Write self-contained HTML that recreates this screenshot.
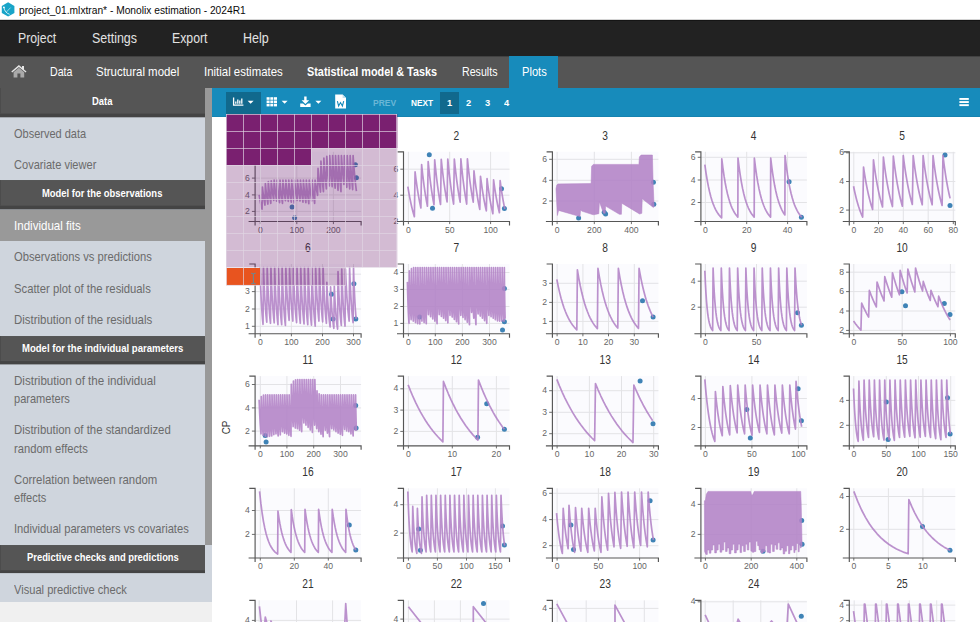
<!DOCTYPE html>
<html><head><meta charset="utf-8"><title>Monolix</title>
<style>
html,body{margin:0;padding:0;}
body{width:980px;height:622px;overflow:hidden;background:#fff;position:relative;font-family:"Liberation Sans",sans-serif;}
.a{position:absolute;}
.t{position:absolute;white-space:nowrap;transform-origin:0 50%;}
svg{position:absolute;left:0;top:0;}
svg text{font-family:"Liberation Sans",sans-serif;}
</style></head><body>
<div class="a" style="left:0px;top:0px;width:980px;height:20px;background:#ffffff;"></div>
<div class="a" style="left:0px;top:19px;width:980px;height:1px;background:#d4d4d4;"></div>
<svg width="20" height="20" viewBox="0 0 20 20"><polygon points="8.1,2.3 14.4,5.9 14.4,13 8.1,16.6 1.8,13 1.8,5.9" fill="#18a4c8"/><path d="M3.9 7.2 Q4.6 12.8 9.6 14.3" fill="none" stroke="#e4f6fb" stroke-width="0.9"/><path d="M6.4 12 L10.6 7.6" fill="none" stroke="#c9ecf5" stroke-width="0.7"/><circle cx="3.9" cy="7.3" r="0.9" fill="#fff"/></svg>
<div class="t" style="left:18.50px;top:2.60px;font-size:11.7px;line-height:14px;color:#0a0a0a;transform:scaleX(0.8748);">project_01.mlxtran* - Monolix estimation - 2024R1</div>
<div class="a" style="left:0px;top:20px;width:980px;height:36px;background:#222222;"></div>
<div class="a" style="left:0px;top:20px;width:980px;height:1px;background:#151515;"></div>
<div class="t" style="left:18.40px;top:30.10px;font-size:13.8px;line-height:17px;color:#e2e2e2;transform:scaleX(0.8894);">Project</div>
<div class="t" style="left:91.80px;top:30.10px;font-size:13.8px;line-height:17px;color:#e2e2e2;transform:scaleX(0.9024);">Settings</div>
<div class="t" style="left:172.00px;top:30.10px;font-size:13.8px;line-height:17px;color:#e2e2e2;transform:scaleX(0.8901);">Export</div>
<div class="t" style="left:242.70px;top:30.10px;font-size:13.8px;line-height:17px;color:#e2e2e2;transform:scaleX(0.9055);">Help</div>
<div class="a" style="left:0px;top:56px;width:980px;height:32px;background:#555555;"></div>
<div class="a" style="left:0px;top:56px;width:980px;height:1px;background:#424242;"></div>
<div class="a" style="left:509px;top:56px;width:49px;height:32px;background:#178bbb;"></div>
<div class="t" style="left:49.60px;top:64.50px;font-size:12.6px;line-height:15px;color:#ffffff;transform:scaleX(0.8416);">Data</div>
<div class="t" style="left:96.40px;top:64.50px;font-size:12.6px;line-height:15px;color:#ffffff;transform:scaleX(0.9080);">Structural model</div>
<div class="t" style="left:204.20px;top:64.50px;font-size:12.6px;line-height:15px;color:#ffffff;transform:scaleX(0.9075);">Initial estimates</div>
<div class="t" style="left:307.40px;top:64.50px;font-size:12.6px;line-height:15px;font-weight:bold;color:#ffffff;transform:scaleX(0.8614);">Statistical model &amp; Tasks</div>
<div class="t" style="left:462.00px;top:64.50px;font-size:12.6px;line-height:15px;color:#ffffff;transform:scaleX(0.8449);">Results</div>
<div class="t" style="left:521.70px;top:64.50px;font-size:12.6px;line-height:15px;color:#ffffff;transform:scaleX(0.8853);">Plots</div>
<svg width="40" height="90" viewBox="0 0 40 90"><path d="M11.3 71.6 L18.9 65 L22 67.7 L22 66 L24 66 L24 69.4 L26.5 71.6 L25.6 72.6 L18.9 66.9 L12.2 72.6 Z" fill="#e6e6e6"/><path d="M13.6 72.2 L18.9 67.8 L24.2 72.2 L24.2 77.4 L20.4 77.4 L20.4 73.6 L17.4 73.6 L17.4 77.4 L13.6 77.4 Z" fill="#a9a9a9"/></svg>
<div class="a" style="left:0px;top:88px;width:212px;height:514px;background:#cfd5dd;"></div>
<div class="a" style="left:0px;top:602px;width:212px;height:20px;background:#f0f0f0;"></div>
<div class="a" style="left:205px;top:88px;width:7px;height:457px;background:#999999;"></div>
<svg width="212" height="622" viewBox="0 0 212 622"><rect x="0" y="88" width="205" height="29.30" fill="#444444"/><rect x="0" y="88" width="205" height="25.60" fill="#555555"/><rect x="0" y="88" width="1" height="25.60" fill="#4c4c4c"/></svg>
<div class="t" style="left:92.25px;top:94.50px;font-size:11.2px;line-height:13px;font-weight:bold;color:#ffffff;transform:scaleX(0.8444);">Data</div>
<div class="t" style="left:13.60px;top:126.60px;font-size:12.7px;line-height:15px;color:#6b6b6b;transform:scaleX(0.8667);">Observed data</div>
<div class="t" style="left:13.60px;top:158.30px;font-size:12.7px;line-height:15px;color:#6b6b6b;transform:scaleX(0.8712);">Covariate viewer</div>
<svg width="212" height="622" viewBox="0 0 212 622"><rect x="0" y="180.2" width="205" height="29.30" fill="#444444"/><rect x="0" y="180.2" width="205" height="25.50" fill="#555555"/><rect x="0" y="180.2" width="1" height="25.50" fill="#4c4c4c"/></svg>
<div class="t" style="left:42.25px;top:186.65px;font-size:11.2px;line-height:13px;font-weight:bold;color:#ffffff;transform:scaleX(0.8419);">Model for the observations</div>
<div class="a" style="left:0px;top:209.7px;width:205px;height:31.4px;background:#999999;"></div>
<div class="t" style="left:13.60px;top:218.60px;font-size:12.7px;line-height:15px;color:#ffffff;transform:scaleX(0.9112);">Individual fits</div>
<div class="t" style="left:13.60px;top:250.10px;font-size:12.7px;line-height:15px;color:#6b6b6b;transform:scaleX(0.8840);">Observations vs predictions</div>
<div class="t" style="left:13.60px;top:281.60px;font-size:12.7px;line-height:15px;color:#6b6b6b;transform:scaleX(0.8896);">Scatter plot of the residuals</div>
<div class="t" style="left:13.60px;top:313.10px;font-size:12.7px;line-height:15px;color:#6b6b6b;transform:scaleX(0.9035);">Distribution of the residuals</div>
<svg width="212" height="622" viewBox="0 0 212 622"><rect x="0" y="336.2" width="205" height="28.20" fill="#444444"/><rect x="0" y="336.2" width="205" height="24.90" fill="#555555"/><rect x="0" y="336.2" width="1" height="24.90" fill="#4c4c4c"/></svg>
<div class="t" style="left:21.75px;top:342.35px;font-size:11.2px;line-height:13px;font-weight:bold;color:#ffffff;transform:scaleX(0.8536);">Model for the individual parameters</div>
<div class="t" style="left:13.60px;top:373.60px;font-size:12.7px;line-height:15px;color:#6b6b6b;transform:scaleX(0.9136);">Distribution of the individual</div>
<div class="t" style="left:13.60px;top:391.50px;font-size:12.7px;line-height:15px;color:#6b6b6b;transform:scaleX(0.8703);">parameters</div>
<div class="t" style="left:13.60px;top:423.30px;font-size:12.7px;line-height:15px;color:#6b6b6b;transform:scaleX(0.8962);">Distribution of the standardized</div>
<div class="t" style="left:13.60px;top:441.90px;font-size:12.7px;line-height:15px;color:#6b6b6b;transform:scaleX(0.8821);">random effects</div>
<div class="t" style="left:13.60px;top:472.60px;font-size:12.7px;line-height:15px;color:#6b6b6b;transform:scaleX(0.8948);">Correlation between random</div>
<div class="t" style="left:13.60px;top:490.50px;font-size:12.7px;line-height:15px;color:#6b6b6b;transform:scaleX(0.8714);">effects</div>
<div class="t" style="left:13.60px;top:522.30px;font-size:12.7px;line-height:15px;color:#6b6b6b;transform:scaleX(0.8786);">Individual parameters vs covariates</div>
<svg width="212" height="622" viewBox="0 0 212 622"><rect x="0" y="545.2" width="205" height="27.90" fill="#444444"/><rect x="0" y="545.2" width="205" height="25.10" fill="#555555"/><rect x="0" y="545.2" width="1" height="25.10" fill="#4c4c4c"/></svg>
<div class="t" style="left:26.50px;top:551.45px;font-size:11.2px;line-height:13px;font-weight:bold;color:#ffffff;transform:scaleX(0.8391);">Predictive checks and predictions</div>
<div class="t" style="left:13.60px;top:582.70px;font-size:12.7px;line-height:15px;color:#6b6b6b;transform:scaleX(0.8755);">Visual predictive check</div>
<div class="a" style="left:212px;top:88px;width:768px;height:29px;background:#178bbb;border-bottom:0.6px solid #1583b0;box-sizing:border-box;"></div>
<div class="a" style="left:226px;top:91.5px;width:35px;height:22.5px;background:#11698d;"></div>
<div class="a" style="left:440px;top:91.5px;width:19.2px;height:22.5px;background:#11698d;"></div>
<div class="t" style="left:373.20px;top:96.90px;font-size:9.9px;line-height:12px;font-weight:bold;color:#6ab7d6;transform:scaleX(0.8605);">PREV</div>
<div class="t" style="left:410.60px;top:96.90px;font-size:9.9px;line-height:12px;font-weight:bold;color:#ffffff;transform:scaleX(0.8370);">NEXT</div>
<div class="t" style="left:447.10px;top:96.90px;font-size:9.9px;line-height:12px;font-weight:bold;color:#ffffff;transform:scaleX(0.9444);">1</div>
<div class="t" style="left:466.20px;top:96.90px;font-size:9.9px;line-height:12px;font-weight:bold;color:#ffffff;transform:scaleX(0.9444);">2</div>
<div class="t" style="left:485.30px;top:96.90px;font-size:9.9px;line-height:12px;font-weight:bold;color:#ffffff;transform:scaleX(0.9444);">3</div>
<div class="t" style="left:504.40px;top:96.90px;font-size:9.9px;line-height:12px;font-weight:bold;color:#ffffff;transform:scaleX(0.9444);">4</div>
<svg width="980" height="120" viewBox="0 0 980 120"><path d="M233.6 97.6 V105.2 H243.4" fill="none" stroke="#fff" stroke-width="1.3"/><path d="M235.8 103.8 V101.4 M237.8 103.8 V99.4 M239.8 103.8 V100.6 M241.8 103.8 V98.4" stroke="#fff" stroke-width="1.3" fill="none"/><path d="M247.6 100.8 H253.6 L250.6 103.8 Z" fill="#fff"/><rect x="266.6" y="97.2" width="3" height="2.6" fill="#fff"/><rect x="266.6" y="100.5" width="3" height="2.6" fill="#fff"/><rect x="266.6" y="103.8" width="3" height="2.6" fill="#fff"/><rect x="270.3" y="97.2" width="3" height="2.6" fill="#fff"/><rect x="270.3" y="100.5" width="3" height="2.6" fill="#fff"/><rect x="270.3" y="103.8" width="3" height="2.6" fill="#fff"/><rect x="274.0" y="97.2" width="3" height="2.6" fill="#fff"/><rect x="274.0" y="100.5" width="3" height="2.6" fill="#fff"/><rect x="274.0" y="103.8" width="3" height="2.6" fill="#fff"/><path d="M281.6 100.8 H287.6 L284.6 103.8 Z" fill="#fff"/><path d="M304.2 96.6 H306.6 V100.2 H309.2 L305.4 104 L301.6 100.2 H304.2 Z" fill="#fff"/><path d="M300.2 103.6 H303 L305.4 105.6 L307.8 103.6 H310.6 V106.9 H300.2 Z" fill="#fff"/><path d="M315.4 100.8 H321.4 L318.4 103.8 Z" fill="#fff"/><path d="M335.2 94.6 H342.6 L346 98 V108.4 H335.2 Z" fill="#fff"/><path d="M342.6 94.6 V98 H346 Z" fill="#bfe0ee"/><path d="M337.4 101.2 L338.6 106 L340.5 102.6 L342.4 106 L343.7 101.2" fill="none" stroke="#178bbb" stroke-width="1.1"/><rect x="959.4" y="98" width="9.4" height="1.9" fill="#fff"/><rect x="959.4" y="101.1" width="9.4" height="1.9" fill="#fff"/><rect x="959.4" y="104.2" width="9.4" height="1.9" fill="#fff"/></svg>
<svg width="980" height="622" viewBox="0 0 980 622"><clipPath id="c1"><rect x="255.1" y="150.8" width="108.0" height="70.9"/></clipPath><rect x="255.1" y="151.8" width="106.0" height="69.7" fill="#fbfbfe"/><path d="M260.3 151.8V221.5M296.8 151.8V221.5M333.4 151.8V221.5M255.1 178.1H361.1M255.1 194.9H361.1M255.1 211.4H361.1" stroke="#e3e3e6" stroke-width="1" fill="none"/><circle cx="292.1" cy="207.1" r="2.5" fill="#3f83b6" clip-path="url(#c1)"/><circle cx="294.6" cy="217.7" r="2.5" fill="#3f83b6" clip-path="url(#c1)"/><circle cx="355.4" cy="164.8" r="2.5" fill="#3f83b6" clip-path="url(#c1)"/><circle cx="356.4" cy="177.8" r="2.5" fill="#3f83b6" clip-path="url(#c1)"/><polyline points="259.13,194.93 259.34,196.22 259.55,197.47 259.75,198.67 259.96,199.82 260.17,200.92 260.37,201.98 260.58,203.00 260.79,203.98 260.99,204.93 261.20,205.83 261.41,206.70 261.61,207.54 261.82,208.34 262.03,209.11 262.46,187.11 262.64,188.76 262.82,190.35 263.00,191.87 263.17,193.33 263.35,194.73 263.53,196.08 263.71,197.37 263.88,198.61 264.06,199.80 264.24,200.94 264.42,202.03 264.60,203.08 264.77,204.09 264.95,205.06 265.39,183.49 265.56,185.42 265.74,187.26 265.92,189.02 266.10,190.71 266.28,192.32 266.45,193.87 266.63,195.34 266.81,196.76 266.99,198.11 267.16,199.40 267.34,200.64 267.52,201.83 267.70,202.96 267.88,204.05 268.31,181.61 268.49,183.65 268.67,185.61 268.84,187.48 269.02,189.26 269.20,190.97 269.38,192.60 269.55,194.16 269.73,195.65 269.91,197.08 270.09,198.44 270.27,199.75 270.44,200.99 270.62,202.18 270.80,203.32 271.23,180.74 271.41,182.52 271.59,184.24 271.77,185.89 271.95,187.48 272.12,189.01 272.30,190.48 272.48,191.90 272.66,193.26 272.83,194.57 273.01,195.84 273.19,197.05 273.37,198.22 273.55,199.34 273.72,200.43 274.16,180.16 274.34,182.09 274.51,183.95 274.69,185.73 274.87,187.44 275.05,189.08 275.23,190.65 275.40,192.16 275.58,193.61 275.76,195.00 275.94,196.33 276.11,197.61 276.29,198.84 276.47,200.02 276.65,201.15 277.08,180.16 277.26,182.28 277.44,184.30 277.62,186.23 277.79,188.07 277.97,189.84 278.15,191.52 278.33,193.14 278.50,194.68 278.68,196.15 278.86,197.56 279.04,198.91 279.22,200.19 279.39,201.42 279.57,202.60 280.01,180.16 280.18,182.37 280.36,184.48 280.54,186.48 280.72,188.40 280.90,190.23 281.07,191.97 281.25,193.64 281.43,195.22 281.61,196.74 281.78,198.18 281.96,199.56 282.14,200.87 282.32,202.13 282.50,203.32 282.93,180.16 283.11,182.04 283.29,183.85 283.46,185.58 283.64,187.25 283.82,188.85 284.00,190.39 284.17,191.87 284.35,193.29 284.53,194.65 284.71,195.97 284.89,197.23 285.06,198.44 285.24,199.60 285.42,200.72 285.85,180.16 286.03,182.11 286.21,183.98 286.39,185.78 286.57,187.50 286.74,189.15 286.92,190.73 287.10,192.25 287.28,193.71 287.45,195.11 287.63,196.45 287.81,197.74 287.99,198.97 288.17,200.16 288.34,201.30 288.78,180.16 288.96,182.22 289.13,184.19 289.31,186.08 289.49,187.88 289.67,189.61 289.85,191.26 290.02,192.84 290.20,194.35 290.38,195.80 290.56,197.19 290.73,198.52 290.91,199.79 291.09,201.00 291.27,202.16 291.70,180.16 291.88,182.33 292.06,184.40 292.24,186.38 292.41,188.27 292.59,190.07 292.77,191.79 292.95,193.44 293.12,195.00 293.30,196.50 293.48,197.93 293.66,199.30 293.84,200.60 294.01,201.84 294.19,203.03 294.63,180.16 294.80,182.01 294.98,183.78 295.16,185.49 295.34,187.13 295.52,188.70 295.69,190.22 295.87,191.68 296.05,193.08 296.23,194.43 296.40,195.72 296.58,196.97 296.76,198.17 296.94,199.32 297.12,200.43 297.55,180.16 297.73,182.08 297.91,183.91 298.08,185.68 298.26,187.37 298.44,189.00 298.62,190.56 298.79,192.06 298.97,193.50 299.15,194.88 299.33,196.21 299.51,197.48 299.68,198.71 299.86,199.88 300.04,201.01 300.47,180.16 300.65,182.22 300.83,184.19 301.01,186.08 301.19,187.88 301.36,189.61 301.54,191.26 301.72,192.84 301.90,194.35 302.07,195.80 302.25,197.19 302.43,198.52 302.61,199.79 302.79,201.00 302.96,202.16 303.40,180.16 303.58,182.29 303.75,184.33 303.93,186.28 304.11,188.14 304.29,189.92 304.47,191.61 304.64,193.24 304.82,194.79 305.00,196.27 305.18,197.68 305.35,199.04 305.53,200.33 305.71,201.56 305.89,202.74 306.32,180.16 306.50,182.41 306.68,184.55 306.86,186.59 307.03,188.53 307.21,190.39 307.39,192.15 307.57,193.84 307.74,195.44 307.92,196.97 308.10,198.43 308.28,199.82 308.46,201.15 308.63,202.41 308.81,203.61 309.25,180.16 309.42,182.08 309.60,183.91 309.78,185.68 309.96,187.37 310.14,189.00 310.31,190.56 310.49,192.06 310.67,193.50 310.85,194.88 311.02,196.21 311.20,197.48 311.38,198.71 311.56,199.88 311.74,201.01 312.17,180.16 312.35,182.37 312.53,184.48 312.70,186.48 312.88,188.40 313.06,190.23 313.24,191.97 313.41,193.64 313.59,195.22 313.77,196.74 313.95,198.18 314.13,199.56 314.30,200.87 314.48,202.13 314.66,203.32 315.09,180.16 315.27,181.45 315.45,182.70 315.63,183.92 315.81,185.11 315.98,186.27 316.16,187.39 316.34,188.48 316.52,189.55 316.69,190.58 316.87,191.59 317.05,192.57 317.23,193.53 317.41,194.46 317.58,195.36 318.02,168.29 318.20,170.41 318.37,172.46 318.55,174.43 318.73,176.34 318.91,178.18 319.09,179.95 319.26,181.66 319.44,183.30 319.62,184.89 319.80,186.43 319.97,187.90 320.15,189.33 320.33,190.70 320.51,192.03 320.94,161.05 321.12,163.92 321.30,166.67 321.48,169.30 321.65,171.81 321.83,174.22 322.01,176.52 322.19,178.73 322.36,180.84 322.54,182.86 322.72,184.80 322.90,186.65 323.08,188.42 323.25,190.12 323.43,191.74 323.87,158.16 324.04,160.99 324.22,163.70 324.40,166.30 324.58,168.80 324.76,171.20 324.93,173.50 325.11,175.70 325.29,177.82 325.47,179.85 325.64,181.80 325.82,183.68 326.00,185.47 326.18,187.19 326.36,188.85 326.79,156.42 326.97,159.09 327.15,161.66 327.32,164.13 327.50,166.51 327.68,168.80 327.86,171.01 328.03,173.14 328.21,175.18 328.39,177.15 328.57,179.05 328.75,180.87 328.92,182.63 329.10,184.32 329.28,185.95 329.71,155.55 329.89,158.40 330.07,161.14 330.25,163.76 330.43,166.29 330.60,168.71 330.78,171.04 330.96,173.28 331.14,175.43 331.31,177.50 331.49,179.48 331.67,181.39 331.85,183.22 332.03,184.98 332.20,186.68 332.64,155.55 332.82,158.58 332.99,161.47 333.17,164.25 333.35,166.91 333.53,169.46 333.71,171.91 333.88,174.25 334.06,176.49 334.24,178.64 334.42,180.70 334.59,182.68 334.77,184.57 334.95,186.38 335.13,188.12 335.56,155.55 335.74,158.85 335.92,162.00 336.10,165.01 336.27,167.88 336.45,170.62 336.63,173.24 336.81,175.73 336.98,178.11 337.16,180.39 337.34,182.56 337.52,184.63 337.70,186.61 337.87,188.49 338.05,190.29 338.49,155.55 338.66,159.05 338.84,162.37 339.02,165.54 339.20,168.55 339.38,171.42 339.55,174.15 339.73,176.74 339.91,179.22 340.09,181.57 340.26,183.81 340.44,185.94 340.62,187.97 340.80,189.90 340.98,191.74 341.41,155.55 341.59,158.15 341.77,160.64 341.94,163.05 342.12,165.38 342.30,167.62 342.48,169.78 342.66,171.86 342.83,173.87 343.01,175.81 343.19,177.68 343.37,179.48 343.54,181.21 343.72,182.89 343.90,184.50 344.33,155.55 344.51,158.49 344.69,161.30 344.87,164.01 345.05,166.60 345.22,169.09 345.40,171.47 345.58,173.76 345.76,175.96 345.93,178.07 346.11,180.09 346.29,182.03 346.47,183.90 346.65,185.68 346.82,187.40 347.26,155.55 347.44,158.67 347.61,161.65 347.79,164.50 347.97,167.23 348.15,169.84 348.33,172.34 348.50,174.74 348.68,177.03 348.86,179.22 349.04,181.32 349.21,183.33 349.39,185.25 349.57,187.09 349.75,188.85 350.18,155.55 350.36,158.76 350.54,161.82 350.72,164.75 350.89,167.55 351.07,170.23 351.25,172.79 351.43,175.23 351.60,177.57 351.78,179.80 351.96,181.94 352.14,183.98 352.32,185.93 352.49,187.79 352.67,189.57 353.11,155.55 353.34,158.97 353.58,162.22 353.81,165.32 354.05,168.28 354.28,171.10 354.52,173.78 354.76,176.34 354.99,178.77 355.23,181.09 355.46,183.31 355.70,185.42 355.94,187.42 356.17,189.34 356.41,191.16" fill="none" stroke="#b282c6" stroke-opacity="0.88" stroke-width="1.7" stroke-linejoin="round" clip-path="url(#c1)"/><path d="M249.3 151.8H255.1V225.5M248.6 221.5H361.1V225.5" stroke="#565656" stroke-width="1.15" fill="none"/><path d="M260.3 221.5v2.6M296.8 221.5v2.6M333.4 221.5v2.6M255.1 178.1h-3.2M255.1 194.9h-3.2M255.1 211.4h-3.2" stroke="#5c5c5c" stroke-width="0.9" fill="none"/><text transform="translate(260.3,232.5) scale(0.9,1)" text-anchor="middle" font-size="9.6" fill="#666">0</text><text transform="translate(296.8,232.5) scale(0.9,1)" text-anchor="middle" font-size="9.6" fill="#666">100</text><text transform="translate(333.4,232.5) scale(0.9,1)" text-anchor="middle" font-size="9.6" fill="#666">200</text><text transform="translate(249.8,180.7) scale(0.9,1)" text-anchor="end" font-size="9.6" fill="#666">6</text><text transform="translate(249.8,197.5) scale(0.9,1)" text-anchor="end" font-size="9.6" fill="#666">4</text><text transform="translate(249.8,214.0) scale(0.9,1)" text-anchor="end" font-size="9.6" fill="#666">2</text><text transform="translate(307.9,139.5) scale(0.85,1)" text-anchor="middle" font-size="12" fill="#333">1</text><clipPath id="c2"><rect x="403.5" y="150.8" width="108.0" height="70.9"/></clipPath><rect x="403.5" y="151.8" width="106.0" height="69.7" fill="#fbfbfe"/><path d="M408.4 151.8V221.5M449.7 151.8V221.5M490.6 151.8V221.5M403.5 169.2H509.5M403.5 195.2H509.5" stroke="#e3e3e6" stroke-width="1" fill="none"/><circle cx="429.3" cy="154.7" r="2.5" fill="#3f83b6" clip-path="url(#c2)"/><circle cx="432.5" cy="208.2" r="2.5" fill="#3f83b6" clip-path="url(#c2)"/><circle cx="501.5" cy="188.7" r="2.5" fill="#3f83b6" clip-path="url(#c2)"/><circle cx="504.4" cy="208.5" r="2.5" fill="#3f83b6" clip-path="url(#c2)"/><polyline points="407.84,186.53 408.31,189.43 408.77,192.19 409.24,194.82 409.70,197.32 410.17,199.70 410.63,201.97 411.10,204.13 411.57,206.19 412.03,208.15 412.50,210.02 412.96,211.80 413.43,213.49 413.89,215.10 414.36,216.64 415.08,171.91 415.50,175.33 415.91,178.60 416.33,181.72 416.74,184.69 417.16,187.53 417.57,190.25 417.99,192.84 418.41,195.31 418.82,197.67 419.24,199.92 419.65,202.07 420.07,204.12 420.48,206.08 420.90,207.95 421.62,164.67 422.04,168.70 422.45,172.52 422.87,176.16 423.29,179.63 423.70,182.92 424.12,186.05 424.53,189.04 424.95,191.87 425.36,194.57 425.78,197.14 426.20,199.58 426.61,201.90 427.03,204.11 427.44,206.22 428.17,161.49 428.58,165.68 429.00,169.68 429.41,173.47 429.83,177.08 430.24,180.51 430.66,183.78 431.08,186.89 431.49,189.84 431.91,192.65 432.32,195.32 432.74,197.87 433.15,200.28 433.57,202.58 433.99,204.77 434.71,159.90 435.12,164.24 435.54,168.37 435.96,172.29 436.37,176.01 436.79,179.56 437.20,182.92 437.62,186.12 438.03,189.16 438.45,192.05 438.87,194.80 439.28,197.40 439.70,199.88 440.11,202.24 440.53,204.48 441.25,159.32 441.67,163.37 442.08,167.25 442.50,170.94 442.91,174.46 443.33,177.82 443.75,181.02 444.16,184.08 444.58,187.00 444.99,189.78 445.41,192.43 445.82,194.96 446.24,197.37 446.66,199.68 447.07,201.87 447.79,159.03 448.21,163.41 448.63,167.58 449.04,171.54 449.46,175.30 449.87,178.88 450.29,182.28 450.70,185.51 451.12,188.58 451.54,191.49 451.95,194.27 452.37,196.90 452.78,199.40 453.20,201.78 453.61,204.05 454.34,159.03 454.75,163.16 455.17,167.09 455.58,170.84 456.00,174.42 456.42,177.83 456.83,181.08 457.25,184.18 457.66,187.13 458.08,189.95 458.49,192.63 458.91,195.19 459.33,197.62 459.74,199.95 460.16,202.16 460.88,158.88 461.30,163.28 461.71,167.47 462.13,171.44 462.54,175.22 462.96,178.81 463.37,182.22 463.79,185.46 464.21,188.54 464.62,191.46 465.04,194.24 465.45,196.88 465.87,199.39 466.28,201.78 466.70,204.05 467.42,158.88 467.84,163.03 468.25,166.98 468.67,170.75 469.09,174.34 469.50,177.76 469.92,181.02 470.33,184.13 470.75,187.09 471.16,189.91 471.58,192.60 472.00,195.17 472.41,197.61 472.83,199.94 473.24,202.16 473.97,170.90 474.38,174.63 474.80,178.18 475.21,181.55 475.63,184.77 476.04,187.82 476.46,190.72 476.88,193.49 477.29,196.12 477.71,198.62 478.12,200.99 478.54,203.26 478.95,205.41 479.37,207.46 479.79,209.40 480.51,176.25 480.92,179.56 481.34,182.71 481.76,185.72 482.17,188.59 482.59,191.32 483.00,193.92 483.42,196.41 483.83,198.78 484.25,201.04 484.67,203.19 485.08,205.24 485.50,207.20 485.91,209.07 486.33,210.85 487.05,178.71 487.47,182.13 487.88,185.37 488.30,188.45 488.71,191.38 489.13,194.17 489.55,196.81 489.96,199.32 490.38,201.71 490.79,203.98 491.21,206.14 491.62,208.19 492.04,210.14 492.46,211.99 492.87,213.74 493.59,179.87 494.01,183.01 494.43,186.01 494.84,188.87 495.26,191.59 495.67,194.18 496.09,196.66 496.50,199.02 496.92,201.27 497.34,203.41 497.75,205.46 498.17,207.41 498.58,209.27 499.00,211.04 499.41,212.73 500.14,180.60 500.47,183.18 500.81,185.67 501.14,188.06 501.48,190.36 501.81,192.57 502.15,194.69 502.48,196.73 502.82,198.69 503.15,200.58 503.49,202.39 503.82,204.14 504.16,205.81 504.49,207.42 504.83,208.97" fill="none" stroke="#b282c6" stroke-opacity="0.88" stroke-width="1.7" stroke-linejoin="round" clip-path="url(#c2)"/><path d="M397.7 151.8H403.5V225.5M397.0 221.5H509.5V225.5" stroke="#565656" stroke-width="1.15" fill="none"/><path d="M408.4 221.5v2.6M449.7 221.5v2.6M490.6 221.5v2.6M403.5 169.2h-3.2M403.5 195.2h-3.2M403.5 221.3h-3.2" stroke="#5c5c5c" stroke-width="0.9" fill="none"/><text transform="translate(408.4,232.5) scale(0.9,1)" text-anchor="middle" font-size="9.6" fill="#666">0</text><text transform="translate(449.7,232.5) scale(0.9,1)" text-anchor="middle" font-size="9.6" fill="#666">50</text><text transform="translate(490.6,232.5) scale(0.9,1)" text-anchor="middle" font-size="9.6" fill="#666">100</text><text transform="translate(398.2,171.8) scale(0.9,1)" text-anchor="end" font-size="9.6" fill="#666">6</text><text transform="translate(398.2,197.8) scale(0.9,1)" text-anchor="end" font-size="9.6" fill="#666">4</text><text transform="translate(398.2,223.9) scale(0.9,1)" text-anchor="end" font-size="9.6" fill="#666">2</text><text transform="translate(456.3,139.5) scale(0.85,1)" text-anchor="middle" font-size="12" fill="#333">2</text><clipPath id="c3"><rect x="552.4" y="150.8" width="108.0" height="70.9"/></clipPath><rect x="552.4" y="151.8" width="106.0" height="69.7" fill="#fbfbfe"/><path d="M557.1 151.8V221.5M594.3 151.8V221.5M631.4 151.8V221.5M552.4 159.3H658.4M552.4 180.3H658.4M552.4 201.0H658.4" stroke="#e3e3e6" stroke-width="1" fill="none"/><circle cx="578.6" cy="217.9" r="2.5" fill="#3f83b6" clip-path="url(#c3)"/><circle cx="604.2" cy="212.3" r="2.5" fill="#3f83b6" clip-path="url(#c3)"/><circle cx="605.6" cy="214.0" r="2.5" fill="#3f83b6" clip-path="url(#c3)"/><circle cx="653.4" cy="182.2" r="2.5" fill="#3f83b6" clip-path="url(#c3)"/><circle cx="653.8" cy="204.2" r="2.5" fill="#3f83b6" clip-path="url(#c3)"/><polygon points="556.0,188.7 556.8,185.1 557.9,183.9 591.1,183.6 591.6,166.3 593.3,164.4 638.9,164.4 639.4,156.9 641.1,155.0 652.4,155.0 653.1,182.2 654.1,206.8 653.4,207.5 642.2,198.8 641.8,213.3 639.6,214.0 621.8,203.2 621.4,214.3 619.4,214.3 605.6,206.1 605.2,213.3 603.5,213.3 599.4,201.7 598.8,213.7 593.3,214.8 581.7,211.1 580.6,209.7 580.0,216.6 558.6,210.4 557.4,215.5" fill="#b282c6" fill-opacity="0.88" stroke="#b282c6" stroke-opacity="0.88" stroke-width="0.6" clip-path="url(#c3)"/><path d="M546.6 151.8H552.4V225.5M545.9 221.5H658.4V225.5" stroke="#565656" stroke-width="1.15" fill="none"/><path d="M557.1 221.5v2.6M594.3 221.5v2.6M631.4 221.5v2.6M552.4 159.3h-3.2M552.4 180.3h-3.2M552.4 201.0h-3.2" stroke="#5c5c5c" stroke-width="0.9" fill="none"/><text transform="translate(557.1,232.5) scale(0.9,1)" text-anchor="middle" font-size="9.6" fill="#666">0</text><text transform="translate(594.3,232.5) scale(0.9,1)" text-anchor="middle" font-size="9.6" fill="#666">200</text><text transform="translate(631.4,232.5) scale(0.9,1)" text-anchor="middle" font-size="9.6" fill="#666">400</text><text transform="translate(547.1,161.9) scale(0.9,1)" text-anchor="end" font-size="9.6" fill="#666">6</text><text transform="translate(547.1,182.9) scale(0.9,1)" text-anchor="end" font-size="9.6" fill="#666">4</text><text transform="translate(547.1,203.6) scale(0.9,1)" text-anchor="end" font-size="9.6" fill="#666">2</text><text transform="translate(605.2,139.5) scale(0.85,1)" text-anchor="middle" font-size="12" fill="#333">3</text><clipPath id="c4"><rect x="700.9" y="150.8" width="108.0" height="70.9"/></clipPath><rect x="700.9" y="151.8" width="106.0" height="69.7" fill="#fbfbfe"/><path d="M705.4 151.8V221.5M746.7 151.8V221.5M787.6 151.8V221.5M700.9 157.3H806.9M700.9 180.0H806.9M700.9 202.5H806.9" stroke="#e3e3e6" stroke-width="1" fill="none"/><circle cx="789.1" cy="181.8" r="2.5" fill="#3f83b6" clip-path="url(#c4)"/><circle cx="801.4" cy="217.2" r="2.5" fill="#3f83b6" clip-path="url(#c4)"/><polyline points="704.84,164.53 706.04,173.04 707.24,180.36 708.44,186.65 709.64,192.05 710.84,196.69 712.04,200.68 713.24,204.11 714.44,207.05 715.64,209.58 716.84,211.76 718.04,213.63 719.24,215.23 720.44,216.61 721.63,217.80 721.78,158.88 722.93,168.17 724.07,176.15 725.22,183.01 726.37,188.91 727.52,193.98 728.67,198.34 729.81,202.09 730.96,205.31 732.11,208.08 733.26,210.46 734.40,212.50 735.55,214.26 736.70,215.77 737.85,217.07 737.99,158.16 739.15,167.59 740.31,175.69 741.47,182.65 742.62,188.63 743.78,193.76 744.94,198.17 746.10,201.96 747.26,205.21 748.41,208.01 749.57,210.41 750.73,212.47 751.89,214.24 753.05,215.77 754.20,217.07 754.35,158.16 755.51,167.59 756.66,175.69 757.82,182.65 758.98,188.63 760.14,193.76 761.30,198.17 762.45,201.96 763.61,205.21 764.77,208.01 765.93,210.41 767.09,212.47 768.24,214.24 769.40,215.77 770.56,217.07 770.71,158.16 771.72,166.59 772.73,173.96 773.75,180.40 774.76,186.03 775.77,190.95 776.79,195.25 777.80,199.00 778.81,202.29 779.83,205.15 780.84,207.66 781.85,209.85 782.86,211.77 783.88,213.44 784.89,214.90 785.04,155.55 786.24,165.59 787.43,174.18 788.63,181.53 789.83,187.82 791.03,193.19 792.23,197.79 793.43,201.73 794.63,205.10 795.83,207.98 797.03,210.44 798.23,212.55 799.43,214.36 800.63,215.90 801.83,217.22" fill="none" stroke="#b282c6" stroke-opacity="0.88" stroke-width="1.7" stroke-linejoin="round" clip-path="url(#c4)"/><path d="M695.1 151.8H700.9V225.5M694.4 221.5H806.9V225.5" stroke="#565656" stroke-width="1.15" fill="none"/><path d="M705.4 221.5v2.6M746.7 221.5v2.6M787.6 221.5v2.6M700.9 157.3h-3.2M700.9 180.0h-3.2M700.9 202.5h-3.2" stroke="#5c5c5c" stroke-width="0.9" fill="none"/><text transform="translate(705.4,232.5) scale(0.9,1)" text-anchor="middle" font-size="9.6" fill="#666">0</text><text transform="translate(746.7,232.5) scale(0.9,1)" text-anchor="middle" font-size="9.6" fill="#666">20</text><text transform="translate(787.6,232.5) scale(0.9,1)" text-anchor="middle" font-size="9.6" fill="#666">40</text><text transform="translate(695.6,159.9) scale(0.9,1)" text-anchor="end" font-size="9.6" fill="#666">6</text><text transform="translate(695.6,182.6) scale(0.9,1)" text-anchor="end" font-size="9.6" fill="#666">4</text><text transform="translate(695.6,205.1) scale(0.9,1)" text-anchor="end" font-size="9.6" fill="#666">2</text><text transform="translate(753.7,139.5) scale(0.85,1)" text-anchor="middle" font-size="12" fill="#333">4</text><clipPath id="c5"><rect x="849.3" y="150.8" width="108.0" height="70.9"/></clipPath><rect x="849.3" y="151.8" width="106.0" height="69.7" fill="#fbfbfe"/><path d="M853.8 151.8V221.5M878.5 151.8V221.5M903.3 151.8V221.5M928.2 151.8V221.5M953.3 151.8V221.5M849.3 152.8H955.3M849.3 181.5H955.3M849.3 210.1H955.3" stroke="#e3e3e6" stroke-width="1" fill="none"/><circle cx="945.0" cy="155.1" r="2.5" fill="#3f83b6" clip-path="url(#c5)"/><circle cx="950.0" cy="205.6" r="2.5" fill="#3f83b6" clip-path="url(#c5)"/><polyline points="853.55,186.24 854.21,189.46 854.86,192.47 855.51,195.31 856.16,197.97 856.81,200.46 857.46,202.81 858.11,205.01 858.76,207.08 859.42,209.02 860.07,210.84 860.72,212.55 861.37,214.15 862.02,215.66 862.67,217.07 863.54,167.13 864.19,171.55 864.84,175.70 865.48,179.59 866.13,183.24 866.78,186.67 867.43,189.88 868.07,192.90 868.72,195.73 869.37,198.39 870.01,200.88 870.66,203.22 871.31,205.41 871.96,207.47 872.60,209.40 873.47,159.90 874.12,164.85 874.77,169.49 875.41,173.83 876.06,177.91 876.71,181.73 877.36,185.31 878.00,188.66 878.65,191.81 879.30,194.76 879.94,197.52 880.59,200.11 881.24,202.53 881.89,204.81 882.53,206.94 883.40,157.00 884.05,162.26 884.70,167.17 885.34,171.77 885.99,176.08 886.64,180.11 887.29,183.88 887.93,187.41 888.58,190.71 889.23,193.80 889.87,196.69 890.52,199.39 891.17,201.92 891.82,204.29 892.46,206.51 893.33,155.99 893.98,161.33 894.63,166.32 895.27,170.99 895.92,175.36 896.57,179.45 897.22,183.28 897.86,186.86 898.51,190.20 899.16,193.34 899.80,196.27 900.45,199.01 901.10,201.57 901.75,203.97 902.39,206.22 903.26,155.70 903.91,160.79 904.56,165.56 905.20,170.05 905.85,174.25 906.50,178.21 907.15,181.91 907.79,185.40 908.44,188.67 909.09,191.73 909.73,194.62 910.38,197.32 911.03,199.86 911.68,202.24 912.32,204.48 913.19,155.70 913.84,160.83 914.49,165.65 915.13,170.17 915.78,174.41 916.43,178.39 917.08,182.12 917.72,185.62 918.37,188.91 919.02,191.99 919.66,194.88 920.31,197.60 920.96,200.14 921.61,202.53 922.25,204.77 923.12,155.70 923.77,160.83 924.42,165.65 925.06,170.17 925.71,174.41 926.36,178.39 927.01,182.12 927.65,185.62 928.30,188.91 928.95,191.99 929.59,194.88 930.24,197.60 930.89,200.14 931.54,202.53 932.18,204.77 933.05,155.70 933.70,160.95 934.35,165.87 934.99,170.49 935.64,174.80 936.29,178.85 936.94,182.64 937.58,186.19 938.23,189.52 938.88,192.63 939.52,195.55 940.17,198.29 940.82,200.85 941.47,203.25 942.11,205.49 942.98,155.70 943.49,159.87 944.00,163.83 944.51,167.60 945.02,171.17 945.53,174.57 946.03,177.80 946.54,180.86 947.05,183.77 947.56,186.53 948.07,189.16 948.58,191.65 949.09,194.02 949.60,196.26 950.10,198.40" fill="none" stroke="#b282c6" stroke-opacity="0.88" stroke-width="1.7" stroke-linejoin="round" clip-path="url(#c5)"/><path d="M843.5 151.8H849.3V225.5M842.8 221.5H955.3V225.5" stroke="#565656" stroke-width="1.15" fill="none"/><path d="M853.8 221.5v2.6M878.5 221.5v2.6M903.3 221.5v2.6M928.2 221.5v2.6M953.3 221.5v2.6M849.3 152.8h-3.2M849.3 181.5h-3.2M849.3 210.1h-3.2" stroke="#5c5c5c" stroke-width="0.9" fill="none"/><text transform="translate(853.8,232.5) scale(0.9,1)" text-anchor="middle" font-size="9.6" fill="#666">0</text><text transform="translate(878.5,232.5) scale(0.9,1)" text-anchor="middle" font-size="9.6" fill="#666">20</text><text transform="translate(903.3,232.5) scale(0.9,1)" text-anchor="middle" font-size="9.6" fill="#666">40</text><text transform="translate(928.2,232.5) scale(0.9,1)" text-anchor="middle" font-size="9.6" fill="#666">60</text><text transform="translate(953.3,232.5) scale(0.9,1)" text-anchor="middle" font-size="9.6" fill="#666">80</text><text transform="translate(844.0,155.4) scale(0.9,1)" text-anchor="end" font-size="9.6" fill="#666">6</text><text transform="translate(844.0,184.1) scale(0.9,1)" text-anchor="end" font-size="9.6" fill="#666">4</text><text transform="translate(844.0,212.7) scale(0.9,1)" text-anchor="end" font-size="9.6" fill="#666">2</text><text transform="translate(902.1,139.5) scale(0.85,1)" text-anchor="middle" font-size="12" fill="#333">5</text><clipPath id="c6"><rect x="255.1" y="263.0" width="108.0" height="70.9"/></clipPath><rect x="255.1" y="264.0" width="106.0" height="69.7" fill="#fbfbfe"/><path d="M260.3 264.0V333.7M291.4 264.0V333.7M322.5 264.0V333.7M353.5 264.0V333.7M255.1 274.2H361.1M255.1 291.6H361.1M255.1 309.0H361.1M255.1 326.3H361.1" stroke="#e3e3e6" stroke-width="1" fill="none"/><circle cx="331.5" cy="294.2" r="2.5" fill="#3f83b6" clip-path="url(#c6)"/><circle cx="333.0" cy="319.1" r="2.5" fill="#3f83b6" clip-path="url(#c6)"/><circle cx="353.9" cy="283.8" r="2.5" fill="#3f83b6" clip-path="url(#c6)"/><circle cx="355.8" cy="319.1" r="2.5" fill="#3f83b6" clip-path="url(#c6)"/><polyline points="260.00,266.97 260.22,274.15 260.44,280.66 260.65,286.55 260.87,291.90 261.09,296.74 261.30,301.14 261.52,305.12 261.74,308.73 261.96,312.00 262.17,314.96 262.39,317.65 262.61,320.09 262.82,322.29 263.04,324.30 263.48,267.55 263.71,274.15 263.95,280.17 264.18,285.67 264.42,290.70 264.65,295.28 264.89,299.48 265.12,303.31 265.36,306.80 265.59,310.00 265.83,312.92 266.06,315.58 266.30,318.02 266.53,320.24 266.77,322.27 267.20,267.55 267.44,274.39 267.67,280.61 267.91,286.27 268.14,291.42 268.38,296.12 268.61,300.39 268.85,304.27 269.08,307.81 269.32,311.03 269.55,313.96 269.79,316.63 270.03,319.06 270.26,321.27 270.50,323.28 270.93,267.55 271.17,274.28 271.40,280.42 271.64,286.01 271.87,291.11 272.11,295.76 272.34,299.99 272.58,303.86 272.81,307.38 273.05,310.59 273.28,313.51 273.52,316.18 273.75,318.61 273.99,320.83 274.22,322.85 274.66,267.55 274.89,274.75 275.13,281.27 275.36,287.17 275.60,292.51 275.83,297.35 276.07,301.73 276.30,305.70 276.54,309.29 276.77,312.54 277.01,315.48 277.24,318.15 277.48,320.57 277.72,322.75 277.95,324.73 278.38,267.55 278.62,274.75 278.86,281.27 279.09,287.17 279.33,292.51 279.56,297.35 279.80,301.73 280.03,305.70 280.27,309.29 280.50,312.54 280.74,315.48 280.97,318.15 281.21,320.57 281.44,322.75 281.68,324.73 282.11,267.55 282.35,274.94 282.58,281.61 282.82,287.64 283.05,293.08 283.29,297.99 283.52,302.42 283.76,306.43 283.99,310.04 284.23,313.31 284.46,316.26 284.70,318.92 284.93,321.32 285.17,323.49 285.41,325.45 285.84,267.55 286.07,273.73 286.31,279.40 286.55,284.61 286.78,289.40 287.02,293.81 287.25,297.85 287.49,301.57 287.72,304.99 287.96,308.12 288.19,311.01 288.43,313.66 288.66,316.09 288.90,318.33 289.13,320.39 289.57,267.55 289.80,273.89 290.04,279.69 290.27,285.01 290.51,289.89 290.74,294.37 290.98,298.47 291.21,302.23 291.45,305.68 291.68,308.84 291.92,311.74 292.15,314.39 292.39,316.83 292.62,319.06 292.86,321.11 293.29,267.55 293.53,274.21 293.76,280.29 294.00,285.84 294.24,290.90 294.47,295.52 294.71,299.73 294.94,303.58 295.18,307.09 295.41,310.29 295.65,313.21 295.88,315.88 296.12,318.31 296.35,320.53 296.59,322.56 297.02,267.55 297.26,274.39 297.49,280.61 297.73,286.27 297.96,291.42 298.20,296.12 298.43,300.39 298.67,304.27 298.90,307.81 299.14,311.03 299.37,313.96 299.61,316.63 299.84,319.06 300.08,321.27 300.31,323.28 300.75,267.55 300.98,274.57 301.22,280.93 301.45,286.71 301.69,291.96 301.93,296.72 302.16,301.05 302.40,304.98 302.63,308.54 302.87,311.78 303.10,314.72 303.34,317.39 303.57,319.81 303.81,322.01 304.04,324.01 304.48,267.55 304.71,274.75 304.95,281.27 305.18,287.17 305.42,292.51 305.65,297.35 305.89,301.73 306.12,305.70 306.36,309.29 306.59,312.54 306.83,315.48 307.06,318.15 307.30,320.57 307.53,322.75 307.77,324.73 308.20,267.55 308.44,274.86 308.67,281.47 308.91,287.45 309.14,292.85 309.38,297.73 309.62,302.14 309.85,306.13 310.09,309.74 310.32,313.00 310.56,315.95 310.79,318.61 311.03,321.02 311.26,323.20 311.50,325.17 311.93,267.55 312.17,275.14 312.40,281.97 312.64,288.12 312.87,293.66 313.11,298.64 313.34,303.13 313.58,307.18 313.81,310.81 314.05,314.09 314.28,317.04 314.52,319.70 314.75,322.09 314.99,324.24 315.22,326.18 315.66,267.55 315.89,273.89 316.13,279.69 316.36,285.01 316.60,289.89 316.83,294.37 317.07,298.47 317.31,302.23 317.54,305.68 317.78,308.84 318.01,311.74 318.25,314.39 318.48,316.83 318.72,319.06 318.95,321.11 319.39,267.55 319.62,274.05 319.86,279.99 320.09,285.42 320.33,290.39 320.56,294.94 320.80,299.09 321.03,302.90 321.27,306.38 321.50,309.56 321.74,312.47 321.97,315.13 322.21,317.57 322.44,319.80 322.68,321.84 323.11,267.55 323.35,274.39 323.58,280.61 323.82,286.27 324.05,291.42 324.29,296.12 324.52,300.39 324.76,304.27 325.00,307.81 325.23,311.03 325.47,313.96 325.70,316.63 325.94,319.06 326.17,321.27 326.41,323.28 326.84,282.46 327.08,287.87 327.31,292.80 327.55,297.29 327.78,301.38 328.02,305.12 328.25,308.52 328.49,311.63 328.72,314.46 328.96,317.04 329.19,319.39 329.43,321.54 329.66,323.49 329.90,325.28 330.13,326.90 330.57,286.81 330.80,291.89 331.04,296.52 331.27,300.73 331.51,304.57 331.74,308.07 331.98,311.25 332.21,314.15 332.45,316.79 332.69,319.19 332.92,321.38 333.16,323.38 333.39,325.19 333.63,326.84 333.86,328.35 334.30,286.08 334.53,291.46 334.77,296.33 335.00,300.75 335.24,304.76 335.47,308.39 335.71,311.68 335.94,314.67 336.18,317.38 336.41,319.83 336.65,322.06 336.88,324.08 337.12,325.91 337.35,327.57 337.59,329.07 338.02,271.61 338.26,278.35 338.49,284.46 338.73,290.00 338.96,295.02 339.20,299.57 339.43,303.69 339.67,307.43 339.90,310.82 340.14,313.90 340.38,316.68 340.61,319.21 340.85,321.50 341.08,323.57 341.32,325.45 341.75,269.00 341.99,276.35 342.22,282.98 342.46,288.95 342.69,294.34 342.93,299.20 343.16,303.58 343.40,307.52 343.63,311.08 343.87,314.29 344.10,317.19 344.34,319.79 344.57,322.15 344.81,324.27 345.04,326.18 345.48,269.00 345.74,275.12 346.00,280.73 346.27,285.89 346.53,290.62 346.80,294.97 347.06,298.96 347.32,302.62 347.59,305.99 347.85,309.08 348.11,311.91 348.38,314.51 348.64,316.90 348.91,319.10 349.17,321.11 349.60,267.55 349.85,274.21 350.10,280.29 350.35,285.84 350.60,290.90 350.84,295.52 351.09,299.73 351.34,303.58 351.59,307.09 351.84,310.29 352.08,313.21 352.33,315.88 352.58,318.31 352.83,320.53 353.08,322.56 353.51,267.55 353.70,273.40 353.88,278.79 354.07,283.77 354.26,288.37 354.44,292.62 354.63,296.54 354.81,300.15 355.00,303.50 355.19,306.58 355.37,309.43 355.56,312.06 355.74,314.49 355.93,316.73 356.12,318.80" fill="none" stroke="#b282c6" stroke-opacity="0.88" stroke-width="1.7" stroke-linejoin="round" clip-path="url(#c6)"/><path d="M249.3 264.0H255.1V337.7M248.6 333.7H361.1V337.7" stroke="#565656" stroke-width="1.15" fill="none"/><path d="M260.3 333.7v2.6M291.4 333.7v2.6M322.5 333.7v2.6M353.5 333.7v2.6M255.1 274.2h-3.2M255.1 291.6h-3.2M255.1 309.0h-3.2M255.1 326.3h-3.2" stroke="#5c5c5c" stroke-width="0.9" fill="none"/><text transform="translate(260.3,344.7) scale(0.9,1)" text-anchor="middle" font-size="9.6" fill="#666">0</text><text transform="translate(291.4,344.7) scale(0.9,1)" text-anchor="middle" font-size="9.6" fill="#666">100</text><text transform="translate(322.5,344.7) scale(0.9,1)" text-anchor="middle" font-size="9.6" fill="#666">200</text><text transform="translate(353.5,344.7) scale(0.9,1)" text-anchor="middle" font-size="9.6" fill="#666">300</text><text transform="translate(249.8,276.8) scale(0.9,1)" text-anchor="end" font-size="9.6" fill="#666">4</text><text transform="translate(249.8,294.2) scale(0.9,1)" text-anchor="end" font-size="9.6" fill="#666">3</text><text transform="translate(249.8,311.6) scale(0.9,1)" text-anchor="end" font-size="9.6" fill="#666">2</text><text transform="translate(249.8,328.9) scale(0.9,1)" text-anchor="end" font-size="9.6" fill="#666">1</text><text transform="translate(307.9,251.7) scale(0.85,1)" text-anchor="middle" font-size="12" fill="#333">6</text><clipPath id="c7"><rect x="403.5" y="263.0" width="108.0" height="70.9"/></clipPath><rect x="403.5" y="264.0" width="106.0" height="69.7" fill="#fbfbfe"/><path d="M408.4 264.0V333.7M435.3 264.0V333.7M462.4 264.0V333.7M489.5 264.0V333.7M403.5 272.5H509.5M403.5 289.4H509.5M403.5 306.5H509.5M403.5 323.4H509.5" stroke="#e3e3e6" stroke-width="1" fill="none"/><circle cx="419.7" cy="317.1" r="2.5" fill="#3f83b6" clip-path="url(#c7)"/><circle cx="504.4" cy="288.4" r="2.5" fill="#3f83b6" clip-path="url(#c7)"/><circle cx="504.4" cy="321.7" r="2.5" fill="#3f83b6" clip-path="url(#c7)"/><circle cx="502.5" cy="329.9" r="2.5" fill="#3f83b6" clip-path="url(#c7)"/><polyline points="407.41,281.88 407.52,286.79 407.64,291.29 407.75,295.42 407.86,299.19 407.98,302.65 408.09,305.83 408.21,308.73 408.32,311.39 408.43,313.83 408.55,316.07 408.66,318.11 408.77,319.99 408.89,321.71 409.00,323.28 409.29,270.88 409.42,276.63 409.56,281.90 409.69,286.74 409.83,291.18 409.96,295.25 410.09,298.99 410.23,302.41 410.36,305.56 410.49,308.44 410.63,311.09 410.76,313.52 410.89,315.75 411.03,317.79 411.16,319.66 411.45,268.71 411.58,275.12 411.72,280.95 411.85,286.27 411.98,291.11 412.12,295.52 412.25,299.53 412.39,303.19 412.52,306.52 412.65,309.55 412.79,312.32 412.92,314.83 413.05,317.12 413.19,319.21 413.32,321.11 413.61,267.55 413.74,274.51 413.88,280.80 414.01,286.49 414.14,291.64 414.28,296.30 414.41,300.51 414.55,304.32 414.68,307.77 414.81,310.89 414.95,313.71 415.08,316.27 415.21,318.58 415.35,320.67 415.48,322.56 415.77,267.55 415.90,274.82 416.04,281.36 416.17,287.26 416.30,292.56 416.44,297.34 416.57,301.64 416.70,305.51 416.84,309.00 416.97,312.13 417.11,314.96 417.24,317.51 417.37,319.80 417.51,321.86 417.64,323.72 417.93,267.55 418.06,274.90 418.20,281.51 418.33,287.45 418.46,292.80 418.60,297.60 418.73,301.93 418.86,305.81 419.00,309.31 419.13,312.45 419.27,315.28 419.40,317.82 419.53,320.10 419.67,322.16 419.80,324.01 420.09,267.55 420.22,274.14 420.36,280.13 420.49,285.58 420.62,290.54 420.76,295.05 420.89,299.16 421.02,302.89 421.16,306.29 421.29,309.38 421.43,312.19 421.56,314.74 421.69,317.07 421.83,319.19 421.96,321.11 422.25,267.55 422.38,274.51 422.52,280.80 422.65,286.49 422.78,291.64 422.92,296.30 423.05,300.51 423.18,304.32 423.32,307.77 423.45,310.89 423.58,313.71 423.72,316.27 423.85,318.58 423.99,320.67 424.12,322.56 424.41,267.55 424.54,274.82 424.68,281.36 424.81,287.26 424.94,292.56 425.08,297.34 425.21,301.64 425.34,305.51 425.48,309.00 425.61,312.13 425.74,314.96 425.88,317.51 426.01,319.80 426.15,321.86 426.28,323.72 426.57,267.55 426.70,272.75 426.84,277.58 426.97,282.07 427.10,286.23 427.24,290.10 427.37,293.69 427.50,297.03 427.64,300.13 427.77,303.01 427.90,305.68 428.04,308.16 428.17,310.47 428.31,312.61 428.44,314.60 428.73,267.55 428.86,273.18 429.00,278.36 429.13,283.15 429.26,287.57 429.40,291.65 429.53,295.42 429.66,298.89 429.80,302.10 429.93,305.06 430.06,307.79 430.20,310.31 430.33,312.64 430.46,314.79 430.60,316.77 430.89,267.55 431.02,273.64 431.15,279.21 431.29,284.32 431.42,289.00 431.56,293.30 431.69,297.23 431.82,300.84 431.96,304.15 432.09,307.18 432.22,309.96 432.36,312.50 432.49,314.84 432.62,316.98 432.76,318.94 433.05,267.55 433.18,274.14 433.31,280.13 433.45,285.58 433.58,290.54 433.72,295.05 433.85,299.16 433.98,302.89 434.12,306.29 434.25,309.38 434.38,312.19 434.52,314.74 434.65,317.07 434.78,319.19 434.92,321.11 435.21,267.55 435.34,274.82 435.47,281.36 435.61,287.26 435.74,292.56 435.88,297.34 436.01,301.64 436.14,305.51 436.28,309.00 436.41,312.13 436.54,314.96 436.68,317.51 436.81,319.80 436.94,321.86 437.08,323.72 437.37,267.55 437.50,272.75 437.63,277.58 437.77,282.07 437.90,286.23 438.03,290.10 438.17,293.69 438.30,297.03 438.44,300.13 438.57,303.01 438.70,305.68 438.84,308.16 438.97,310.47 439.10,312.61 439.24,314.60 439.53,267.55 439.66,273.12 439.79,278.26 439.93,283.00 440.06,287.39 440.19,291.44 440.33,295.18 440.46,298.64 440.60,301.83 440.73,304.78 440.86,307.51 441.00,310.02 441.13,312.35 441.26,314.50 441.40,316.48 441.69,267.55 441.82,273.48 441.95,278.92 442.09,283.92 442.22,288.52 442.35,292.74 442.49,296.62 442.62,300.18 442.76,303.46 442.89,306.46 443.02,309.23 443.16,311.77 443.29,314.10 443.42,316.25 443.56,318.22 443.85,267.55 443.98,274.00 444.11,279.88 444.25,285.24 444.38,290.12 444.51,294.57 444.65,298.63 444.78,302.33 444.91,305.71 445.05,308.78 445.18,311.59 445.32,314.14 445.45,316.47 445.58,318.60 445.72,320.53 446.01,267.55 446.14,274.58 446.27,280.94 446.41,286.68 446.54,291.86 446.67,296.55 446.81,300.79 446.94,304.62 447.07,308.07 447.21,311.20 447.34,314.02 447.48,316.58 447.61,318.88 447.74,320.97 447.88,322.85 448.17,267.55 448.30,272.89 448.43,277.84 448.57,282.42 448.70,286.67 448.83,290.61 448.97,294.26 449.10,297.64 449.23,300.78 449.37,303.68 449.50,306.38 449.63,308.88 449.77,311.19 449.90,313.33 450.04,315.32 450.33,267.55 450.46,273.23 450.59,278.47 450.73,283.30 450.86,287.76 450.99,291.87 451.13,295.65 451.26,299.15 451.39,302.37 451.53,305.34 451.66,308.08 451.79,310.60 451.93,312.93 452.06,315.08 452.20,317.06 452.48,267.55 452.62,273.73 452.75,279.39 452.89,284.56 453.02,289.30 453.15,293.64 453.29,297.61 453.42,301.24 453.55,304.57 453.69,307.61 453.82,310.40 453.95,312.95 454.09,315.28 454.22,317.42 454.36,319.38 454.64,267.55 454.78,274.28 454.91,280.39 455.05,285.94 455.18,290.97 455.31,295.54 455.45,299.69 455.58,303.46 455.71,306.88 455.85,309.98 455.98,312.79 456.11,315.35 456.25,317.67 456.38,319.78 456.51,321.69 456.80,267.55 456.94,274.90 457.07,281.51 457.21,287.45 457.34,292.80 457.47,297.60 457.61,301.93 457.74,305.81 457.87,309.31 458.01,312.45 458.14,315.28 458.27,317.82 458.41,320.10 458.54,322.16 458.67,324.01 458.96,267.55 459.10,272.89 459.23,277.84 459.36,282.42 459.50,286.67 459.63,290.61 459.77,294.26 459.90,297.64 460.03,300.78 460.17,303.68 460.30,306.38 460.43,308.88 460.57,311.19 460.70,313.33 460.83,315.32 461.12,267.55 461.26,273.32 461.39,278.64 461.52,283.53 461.66,288.04 461.79,292.19 461.93,296.01 462.06,299.53 462.19,302.77 462.33,305.76 462.46,308.51 462.59,311.04 462.73,313.37 462.86,315.52 462.99,317.49 463.28,267.55 463.42,273.80 463.55,279.51 463.68,284.73 463.82,289.50 463.95,293.87 464.08,297.86 464.22,301.51 464.35,304.85 464.49,307.90 464.62,310.69 464.75,313.25 464.89,315.58 465.02,317.71 465.15,319.66 465.44,267.55 465.58,274.43 465.71,280.66 465.84,286.30 465.98,291.41 466.11,296.04 466.24,300.23 466.38,304.03 466.51,307.47 466.65,310.59 466.78,313.41 466.91,315.96 467.05,318.28 467.18,320.37 467.31,322.27 467.60,267.55 467.74,275.11 467.87,281.89 468.00,287.96 468.14,293.41 468.27,298.29 468.40,302.66 468.54,306.58 468.67,310.10 468.81,313.25 468.94,316.07 469.07,318.60 469.21,320.87 469.34,322.91 469.47,324.73 469.76,267.55 469.90,272.36 470.03,276.86 470.16,281.05 470.30,284.97 470.43,288.63 470.56,292.05 470.70,295.25 470.83,298.23 470.96,301.02 471.10,303.62 471.23,306.05 471.37,308.32 471.50,310.45 471.63,312.43 471.92,267.55 472.06,273.48 472.19,278.92 472.32,283.92 472.46,288.52 472.59,292.74 472.72,296.62 472.86,300.18 472.99,303.46 473.12,306.46 473.26,309.23 473.39,311.77 473.53,314.10 473.66,316.25 473.79,318.22 474.08,267.55 474.22,275.11 474.35,281.89 474.48,287.96 474.62,293.41 474.75,298.29 474.88,302.66 475.02,306.58 475.15,310.10 475.28,313.25 475.42,316.07 475.55,318.60 475.69,320.87 475.82,322.91 475.95,324.73 476.24,267.55 476.38,272.62 476.51,277.33 476.64,281.72 476.78,285.80 476.91,289.60 477.04,293.14 477.18,296.43 477.31,299.49 477.44,302.34 477.58,304.99 477.71,307.46 477.84,309.75 477.98,311.89 478.11,313.87 478.40,267.55 478.54,273.03 478.67,278.10 478.80,282.78 478.94,287.12 479.07,291.13 479.20,294.83 479.34,298.26 479.47,301.43 479.60,304.37 479.74,307.08 479.87,309.59 480.00,311.91 480.14,314.06 480.27,316.05 480.56,267.55 480.69,273.48 480.83,278.92 480.96,283.92 481.10,288.52 481.23,292.74 481.36,296.62 481.50,300.18 481.63,303.46 481.76,306.46 481.90,309.23 482.03,311.77 482.16,314.10 482.30,316.25 482.43,318.22 482.72,267.55 482.85,274.04 482.99,279.94 483.12,285.32 483.26,290.23 483.39,294.69 483.52,298.76 483.66,302.47 483.79,305.85 483.92,308.93 484.06,311.74 484.19,314.29 484.32,316.62 484.46,318.74 484.59,320.68 484.88,267.55 485.01,274.70 485.15,281.15 485.28,286.96 485.41,292.21 485.55,296.94 485.68,301.21 485.82,305.06 485.95,308.53 486.08,311.66 486.22,314.49 486.35,317.04 486.48,319.34 486.62,321.41 486.75,323.28 487.04,267.55 487.17,272.89 487.31,277.84 487.44,282.42 487.57,286.67 487.71,290.61 487.84,294.26 487.98,297.64 488.11,300.78 488.24,303.68 488.38,306.38 488.51,308.88 488.64,311.19 488.78,313.33 488.91,315.32 489.20,267.55 489.33,273.18 489.47,278.36 489.60,283.15 489.73,287.57 489.87,291.65 490.00,295.42 490.14,298.89 490.27,302.10 490.40,305.06 490.54,307.79 490.67,310.31 490.80,312.64 490.94,314.79 491.07,316.77 491.36,267.55 491.49,273.48 491.63,278.92 491.76,283.92 491.89,288.52 492.03,292.74 492.16,296.62 492.29,300.18 492.43,303.46 492.56,306.46 492.70,309.23 492.83,311.77 492.96,314.10 493.10,316.25 493.23,318.22 493.52,267.55 493.65,273.80 493.79,279.51 493.92,284.73 494.05,289.50 494.19,293.87 494.32,297.86 494.45,301.51 494.59,304.85 494.72,307.90 494.86,310.69 494.99,313.25 495.12,315.58 495.26,317.71 495.39,319.66 495.68,267.55 495.81,274.07 495.95,280.00 496.08,285.41 496.21,290.33 496.35,294.81 496.48,298.89 496.61,302.61 496.75,306.00 496.88,309.08 497.01,311.89 497.15,314.44 497.28,316.77 497.42,318.89 497.55,320.82 497.84,267.55 497.97,274.14 498.11,280.13 498.24,285.58 498.37,290.54 498.51,295.05 498.64,299.16 498.77,302.89 498.91,306.29 499.04,309.38 499.17,312.19 499.31,314.74 499.44,317.07 499.58,319.19 499.71,321.11 500.00,267.55 500.13,274.14 500.27,280.13 500.40,285.58 500.53,290.54 500.67,295.05 500.80,299.16 500.93,302.89 501.07,306.29 501.20,309.38 501.33,312.19 501.47,314.74 501.60,317.07 501.74,319.19 501.87,321.11 502.16,267.55 502.29,274.14 502.43,280.13 502.56,285.58 502.69,290.54 502.83,295.05 502.96,299.16 503.09,302.89 503.23,306.29 503.36,309.38 503.49,312.19 503.63,314.74 503.76,317.07 503.89,319.19 504.03,321.11 504.32,267.55 504.38,273.60 504.43,279.15 504.49,284.24 504.55,288.91 504.60,293.19 504.66,297.11 504.72,300.71 504.77,304.01 504.83,307.04 504.89,309.81 504.95,312.36 505.00,314.69 505.06,316.83 505.12,318.80" fill="none" stroke="#b282c6" stroke-opacity="0.88" stroke-width="1.7" stroke-linejoin="round" clip-path="url(#c7)"/><path d="M397.7 264.0H403.5V337.7M397.0 333.7H509.5V337.7" stroke="#565656" stroke-width="1.15" fill="none"/><path d="M408.4 333.7v2.6M435.3 333.7v2.6M462.4 333.7v2.6M489.5 333.7v2.6M403.5 272.5h-3.2M403.5 289.4h-3.2M403.5 306.5h-3.2M403.5 323.4h-3.2" stroke="#5c5c5c" stroke-width="0.9" fill="none"/><text transform="translate(408.4,344.7) scale(0.9,1)" text-anchor="middle" font-size="9.6" fill="#666">0</text><text transform="translate(435.3,344.7) scale(0.9,1)" text-anchor="middle" font-size="9.6" fill="#666">100</text><text transform="translate(462.4,344.7) scale(0.9,1)" text-anchor="middle" font-size="9.6" fill="#666">200</text><text transform="translate(489.5,344.7) scale(0.9,1)" text-anchor="middle" font-size="9.6" fill="#666">300</text><text transform="translate(398.2,275.1) scale(0.9,1)" text-anchor="end" font-size="9.6" fill="#666">4</text><text transform="translate(398.2,292.0) scale(0.9,1)" text-anchor="end" font-size="9.6" fill="#666">3</text><text transform="translate(398.2,309.1) scale(0.9,1)" text-anchor="end" font-size="9.6" fill="#666">2</text><text transform="translate(398.2,326.0) scale(0.9,1)" text-anchor="end" font-size="9.6" fill="#666">1</text><text transform="translate(456.3,251.7) scale(0.85,1)" text-anchor="middle" font-size="12" fill="#333">7</text><clipPath id="c8"><rect x="552.4" y="263.0" width="108.0" height="70.9"/></clipPath><rect x="552.4" y="264.0" width="106.0" height="69.7" fill="#fbfbfe"/><path d="M557.1 264.0V333.7M582.9 264.0V333.7M608.5 264.0V333.7M634.3 264.0V333.7M552.4 283.3H658.4M552.4 302.4H658.4M552.4 321.4H658.4" stroke="#e3e3e6" stroke-width="1" fill="none"/><circle cx="642.5" cy="300.7" r="2.5" fill="#3f83b6" clip-path="url(#c8)"/><circle cx="653.1" cy="317.1" r="2.5" fill="#3f83b6" clip-path="url(#c8)"/><polyline points="556.84,279.42 558.27,286.57 559.70,292.87 561.12,298.44 562.55,303.36 563.98,307.71 565.40,311.54 566.83,314.93 568.26,317.92 569.68,320.56 571.11,322.89 572.54,324.95 573.97,326.77 575.39,328.38 576.82,329.80 577.40,269.87 578.82,278.32 580.25,285.76 581.68,292.31 583.11,298.07 584.53,303.15 585.96,307.62 587.39,311.55 588.81,315.02 590.24,318.07 591.67,320.75 593.09,323.11 594.52,325.19 595.95,327.03 597.37,328.64 597.95,268.42 599.37,276.92 600.79,284.42 602.20,291.03 603.62,296.86 605.04,302.01 606.45,306.55 607.87,310.55 609.29,314.08 610.70,317.20 612.12,319.95 613.53,322.37 614.95,324.51 616.37,326.40 617.78,328.06 618.36,268.42 619.80,277.03 621.24,284.61 622.67,291.28 624.11,297.16 625.55,302.33 626.99,306.89 628.42,310.90 629.86,314.44 631.30,317.55 632.73,320.29 634.17,322.70 635.61,324.83 637.05,326.70 638.48,328.35 639.06,268.42 640.07,273.98 641.07,279.11 642.07,283.84 643.07,288.21 644.08,292.24 645.08,295.96 646.08,299.39 647.09,302.56 648.09,305.49 649.09,308.19 650.09,310.68 651.10,312.98 652.10,315.10 653.10,317.06" fill="none" stroke="#b282c6" stroke-opacity="0.88" stroke-width="1.7" stroke-linejoin="round" clip-path="url(#c8)"/><path d="M546.6 264.0H552.4V337.7M545.9 333.7H658.4V337.7" stroke="#565656" stroke-width="1.15" fill="none"/><path d="M557.1 333.7v2.6M582.9 333.7v2.6M608.5 333.7v2.6M634.3 333.7v2.6M552.4 283.3h-3.2M552.4 302.4h-3.2M552.4 321.4h-3.2" stroke="#5c5c5c" stroke-width="0.9" fill="none"/><text transform="translate(557.1,344.7) scale(0.9,1)" text-anchor="middle" font-size="9.6" fill="#666">0</text><text transform="translate(582.9,344.7) scale(0.9,1)" text-anchor="middle" font-size="9.6" fill="#666">10</text><text transform="translate(608.5,344.7) scale(0.9,1)" text-anchor="middle" font-size="9.6" fill="#666">20</text><text transform="translate(634.3,344.7) scale(0.9,1)" text-anchor="middle" font-size="9.6" fill="#666">30</text><text transform="translate(547.1,285.9) scale(0.9,1)" text-anchor="end" font-size="9.6" fill="#666">3</text><text transform="translate(547.1,305.0) scale(0.9,1)" text-anchor="end" font-size="9.6" fill="#666">2</text><text transform="translate(547.1,324.0) scale(0.9,1)" text-anchor="end" font-size="9.6" fill="#666">1</text><text transform="translate(605.2,251.7) scale(0.85,1)" text-anchor="middle" font-size="12" fill="#333">8</text><clipPath id="c9"><rect x="700.9" y="263.0" width="108.0" height="70.9"/></clipPath><rect x="700.9" y="264.0" width="106.0" height="69.7" fill="#fbfbfe"/><path d="M705.4 264.0V333.7M756.5 264.0V333.7M700.9 281.2H806.9M700.9 307.2H806.9" stroke="#e3e3e6" stroke-width="1" fill="none"/><circle cx="797.5" cy="312.7" r="2.5" fill="#3f83b6" clip-path="url(#c9)"/><circle cx="801.4" cy="325.3" r="2.5" fill="#3f83b6" clip-path="url(#c9)"/><polyline points="704.84,270.74 705.40,283.24 705.96,293.25 706.52,301.25 707.08,307.66 707.63,312.78 708.19,316.88 708.75,320.16 709.31,322.78 709.87,324.88 710.43,326.56 710.98,327.90 711.54,328.97 712.10,329.83 712.66,330.52 713.09,267.99 713.65,281.20 714.20,291.75 714.76,300.15 715.31,306.86 715.87,312.21 716.42,316.47 716.97,319.87 717.53,322.58 718.08,324.75 718.64,326.47 719.19,327.85 719.74,328.95 720.30,329.82 720.85,330.52 721.29,267.99 721.84,281.20 722.40,291.75 722.95,300.15 723.50,306.86 724.06,312.21 724.61,316.47 725.17,319.87 725.72,322.58 726.27,324.75 726.83,326.47 727.38,327.85 727.94,328.95 728.49,329.82 729.05,330.52 729.48,267.99 730.03,281.20 730.59,291.75 731.14,300.15 731.70,306.86 732.25,312.21 732.81,316.47 733.36,319.87 733.91,322.58 734.47,324.75 735.02,326.47 735.58,327.85 736.13,328.95 736.68,329.82 737.24,330.52 737.67,267.99 738.23,281.20 738.78,291.75 739.34,300.15 739.89,306.86 740.44,312.21 741.00,316.47 741.55,319.87 742.11,322.58 742.66,324.75 743.22,326.47 743.77,327.85 744.32,328.95 744.88,329.82 745.43,330.52 745.87,267.99 746.42,281.20 746.97,291.75 747.53,300.15 748.08,306.86 748.64,312.21 749.19,316.47 749.75,319.87 750.30,322.58 750.85,324.75 751.41,326.47 751.96,327.85 752.52,328.95 753.07,329.82 753.62,330.52 754.06,267.99 754.61,281.20 755.17,291.75 755.72,300.15 756.28,306.86 756.83,312.21 757.38,316.47 757.94,319.87 758.49,322.58 759.05,324.75 759.60,326.47 760.16,327.85 760.71,328.95 761.26,329.82 761.82,330.52 762.25,267.99 762.81,281.20 763.36,291.75 763.91,300.15 764.47,306.86 765.02,312.21 765.58,316.47 766.13,319.87 766.69,322.58 767.24,324.75 767.79,326.47 768.35,327.85 768.90,328.95 769.46,329.82 770.01,330.52 770.45,267.99 771.00,281.20 771.55,291.75 772.11,300.15 772.66,306.86 773.22,312.21 773.77,316.47 774.32,319.87 774.88,322.58 775.43,324.75 775.99,326.47 776.54,327.85 777.10,328.95 777.65,329.82 778.20,330.52 778.64,267.99 779.19,281.20 779.75,291.75 780.30,300.15 780.85,306.86 781.41,312.21 781.96,316.47 782.52,319.87 783.07,322.58 783.63,324.75 784.18,326.47 784.73,327.85 785.29,328.95 785.84,329.82 786.40,330.52 786.83,267.99 787.39,281.20 787.94,291.75 788.49,300.15 789.05,306.86 789.60,312.21 790.16,316.47 790.71,319.87 791.26,322.58 791.82,324.75 792.37,326.47 792.93,327.85 793.48,328.95 794.04,329.82 794.59,330.52 795.02,267.99 795.50,277.10 795.98,284.94 796.45,291.68 796.93,297.49 797.40,302.48 797.88,306.78 798.35,310.47 798.83,313.65 799.30,316.39 799.78,318.75 800.26,320.77 800.73,322.52 801.21,324.02 801.68,325.31" fill="none" stroke="#b282c6" stroke-opacity="0.88" stroke-width="1.7" stroke-linejoin="round" clip-path="url(#c9)"/><path d="M695.1 264.0H700.9V337.7M694.4 333.7H806.9V337.7" stroke="#565656" stroke-width="1.15" fill="none"/><path d="M705.4 333.7v2.6M756.5 333.7v2.6M700.9 281.2h-3.2M700.9 307.2h-3.2" stroke="#5c5c5c" stroke-width="0.9" fill="none"/><text transform="translate(705.4,344.7) scale(0.9,1)" text-anchor="middle" font-size="9.6" fill="#666">0</text><text transform="translate(756.5,344.7) scale(0.9,1)" text-anchor="middle" font-size="9.6" fill="#666">50</text><text transform="translate(695.6,283.8) scale(0.9,1)" text-anchor="end" font-size="9.6" fill="#666">4</text><text transform="translate(695.6,309.8) scale(0.9,1)" text-anchor="end" font-size="9.6" fill="#666">2</text><text transform="translate(753.7,251.7) scale(0.85,1)" text-anchor="middle" font-size="12" fill="#333">9</text><clipPath id="c10"><rect x="849.3" y="263.0" width="108.0" height="70.9"/></clipPath><rect x="849.3" y="264.0" width="106.0" height="69.7" fill="#fbfbfe"/><path d="M853.8 264.0V333.7M902.2 264.0V333.7M950.4 264.0V333.7M849.3 272.2H955.3M849.3 291.6H955.3M849.3 311.0H955.3M849.3 330.4H955.3" stroke="#e3e3e6" stroke-width="1" fill="none"/><circle cx="901.9" cy="291.7" r="2.5" fill="#3f83b6" clip-path="url(#c10)"/><circle cx="905.5" cy="305.8" r="2.5" fill="#3f83b6" clip-path="url(#c10)"/><circle cx="944.3" cy="303.6" r="2.5" fill="#3f83b6" clip-path="url(#c10)"/><circle cx="950.0" cy="314.5" r="2.5" fill="#3f83b6" clip-path="url(#c10)"/><polyline points="853.55,320.97 854.08,321.74 854.61,322.49 855.14,323.22 855.66,323.94 856.19,324.63 856.72,325.30 857.24,325.96 857.77,326.60 858.30,327.22 858.83,327.83 859.35,328.41 859.88,328.99 860.41,329.54 860.94,330.09 861.66,303.16 862.16,304.33 862.66,305.46 863.15,306.57 863.65,307.65 864.15,308.70 864.65,309.72 865.15,310.72 865.65,311.70 866.15,312.65 866.64,313.58 867.14,314.48 867.64,315.36 868.14,316.22 868.64,317.06 869.36,290.42 869.86,291.79 870.36,293.12 870.86,294.43 871.35,295.70 871.85,296.94 872.35,298.16 872.85,299.35 873.35,300.51 873.85,301.64 874.34,302.75 874.84,303.83 875.34,304.89 875.84,305.92 876.34,306.93 877.06,282.03 877.56,283.59 878.06,285.11 878.56,286.59 879.05,288.04 879.55,289.46 880.05,290.85 880.55,292.20 881.05,293.52 881.55,294.82 882.05,296.08 882.54,297.31 883.04,298.52 883.54,299.70 884.04,300.85 884.76,276.67 885.26,278.38 885.76,280.04 886.26,281.67 886.76,283.25 887.25,284.80 887.75,286.32 888.25,287.80 888.75,289.24 889.25,290.65 889.75,292.03 890.24,293.38 890.74,294.69 891.24,295.97 891.74,297.23 892.46,272.76 892.96,274.59 893.46,276.38 893.96,278.12 894.46,279.82 894.96,281.48 895.45,283.11 895.95,284.69 896.45,286.23 896.95,287.74 897.45,289.22 897.95,290.65 898.44,292.06 898.94,293.43 899.44,294.77 900.16,270.45 900.66,272.31 901.16,274.13 901.66,275.90 902.16,277.64 902.66,279.33 903.15,280.98 903.65,282.60 904.15,284.17 904.65,285.71 905.15,287.22 905.65,288.68 906.14,290.12 906.64,291.52 907.14,292.89 907.86,269.00 908.36,270.90 908.86,272.75 909.36,274.56 909.86,276.33 910.36,278.06 910.86,279.74 911.35,281.39 911.85,282.99 912.35,284.56 912.85,286.09 913.35,287.59 913.85,289.05 914.34,290.48 914.84,291.87 915.57,267.99 916.06,269.90 916.56,271.76 917.06,273.58 917.56,275.36 918.06,277.09 918.56,278.79 919.05,280.44 919.55,282.06 920.05,283.64 920.55,285.18 921.05,286.69 921.55,288.16 922.04,289.60 922.54,291.00 923.27,281.45 923.76,283.02 924.26,284.55 924.76,286.05 925.26,287.51 925.76,288.94 926.26,290.34 926.76,291.70 927.25,293.03 927.75,294.34 928.25,295.61 928.75,296.85 929.25,298.07 929.75,299.25 930.24,300.41 930.97,290.42 931.47,291.76 931.96,293.07 932.46,294.35 932.96,295.60 933.46,296.82 933.96,298.01 934.46,299.18 934.95,300.32 935.45,301.43 935.95,302.52 936.45,303.58 936.95,304.63 937.45,305.64 937.94,306.64 938.67,296.21 939.49,298.41 940.30,300.51 941.12,302.53 941.94,304.47 942.75,306.32 943.57,308.10 944.39,309.81 945.20,311.45 946.02,313.02 946.84,314.52 947.65,315.97 948.47,317.35 949.29,318.68 950.10,319.95" fill="none" stroke="#b282c6" stroke-opacity="0.88" stroke-width="1.7" stroke-linejoin="round" clip-path="url(#c10)"/><path d="M843.5 264.0H849.3V337.7M842.8 333.7H955.3V337.7" stroke="#565656" stroke-width="1.15" fill="none"/><path d="M853.8 333.7v2.6M902.2 333.7v2.6M950.4 333.7v2.6M849.3 272.2h-3.2M849.3 291.6h-3.2M849.3 311.0h-3.2M849.3 330.4h-3.2" stroke="#5c5c5c" stroke-width="0.9" fill="none"/><text transform="translate(853.8,344.7) scale(0.9,1)" text-anchor="middle" font-size="9.6" fill="#666">0</text><text transform="translate(902.2,344.7) scale(0.9,1)" text-anchor="middle" font-size="9.6" fill="#666">50</text><text transform="translate(950.4,344.7) scale(0.9,1)" text-anchor="middle" font-size="9.6" fill="#666">100</text><text transform="translate(844.0,274.8) scale(0.9,1)" text-anchor="end" font-size="9.6" fill="#666">8</text><text transform="translate(844.0,294.2) scale(0.9,1)" text-anchor="end" font-size="9.6" fill="#666">6</text><text transform="translate(844.0,313.6) scale(0.9,1)" text-anchor="end" font-size="9.6" fill="#666">4</text><text transform="translate(844.0,333.0) scale(0.9,1)" text-anchor="end" font-size="9.6" fill="#666">2</text><text transform="translate(902.1,251.7) scale(0.85,1)" text-anchor="middle" font-size="12" fill="#333">10</text><clipPath id="c11"><rect x="255.1" y="375.1" width="108.0" height="70.9"/></clipPath><rect x="255.1" y="376.1" width="106.0" height="69.7" fill="#fbfbfe"/><path d="M260.3 376.1V445.8M286.9 376.1V445.8M313.7 376.1V445.8M340.5 376.1V445.8M255.1 384.5H361.1M255.1 407.9H361.1M255.1 431.1H361.1" stroke="#e3e3e6" stroke-width="1" fill="none"/><circle cx="265.2" cy="435.4" r="2.5" fill="#3f83b6" clip-path="url(#c11)"/><circle cx="266.1" cy="442.1" r="2.5" fill="#3f83b6" clip-path="url(#c11)"/><circle cx="355.7" cy="405.5" r="2.5" fill="#3f83b6" clip-path="url(#c11)"/><circle cx="356.1" cy="427.9" r="2.5" fill="#3f83b6" clip-path="url(#c11)"/><polyline points="259.13,399.67 259.27,403.36 259.40,406.81 259.54,410.02 259.67,413.01 259.80,415.80 259.94,418.41 260.07,420.84 260.21,423.10 260.34,425.22 260.48,427.19 260.61,429.03 260.75,430.74 260.88,432.34 261.01,433.84 261.30,396.63 261.44,401.01 261.57,405.06 261.70,408.80 261.83,412.26 261.97,415.46 262.10,418.42 262.23,421.15 262.36,423.67 262.50,426.01 262.63,428.17 262.76,430.16 262.89,432.00 263.02,433.71 263.16,435.28 263.45,395.19 263.58,399.98 263.71,404.39 263.84,408.45 263.98,412.17 264.11,415.59 264.24,418.74 264.37,421.63 264.51,424.29 264.64,426.74 264.77,428.98 264.90,431.05 265.03,432.95 265.17,434.69 265.30,436.30 265.59,394.90 265.72,399.83 265.85,404.36 265.99,408.51 266.12,412.31 266.25,415.81 266.38,419.01 266.52,421.95 266.65,424.65 266.78,427.12 266.91,429.39 267.04,431.47 267.18,433.37 267.31,435.13 267.44,436.73 267.73,394.90 267.86,399.74 268.00,404.18 268.13,408.27 268.26,412.02 268.39,415.47 268.53,418.64 268.66,421.55 268.79,424.23 268.92,426.69 269.05,428.95 269.19,431.03 269.32,432.93 269.45,434.69 269.58,436.30 269.87,394.90 270.01,399.67 270.14,404.07 270.27,408.11 270.40,411.83 270.54,415.25 270.67,418.40 270.80,421.29 270.93,423.96 271.06,426.41 271.20,428.66 271.33,430.73 271.46,432.64 271.59,434.39 271.73,436.01 272.02,394.90 272.15,399.38 272.28,403.52 272.41,407.36 272.55,410.90 272.68,414.18 272.81,417.22 272.94,420.02 273.07,422.61 273.21,425.01 273.34,427.23 273.47,429.28 273.60,431.18 273.74,432.94 273.87,434.56 274.16,394.90 274.29,399.24 274.42,403.26 274.56,407.00 274.69,410.46 274.82,413.67 274.95,416.64 275.08,419.40 275.22,421.96 275.35,424.33 275.48,426.53 275.61,428.57 275.75,430.46 275.88,432.21 276.01,433.84 276.30,394.90 276.43,399.67 276.57,404.07 276.70,408.11 276.83,411.83 276.96,415.25 277.09,418.40 277.23,421.29 277.36,423.96 277.49,426.41 277.62,428.66 277.76,430.73 277.89,432.64 278.02,434.39 278.15,436.01 278.44,394.90 278.58,399.44 278.71,403.63 278.84,407.51 278.97,411.09 279.10,414.39 279.24,417.45 279.37,420.27 279.50,422.88 279.63,425.29 279.77,427.51 279.90,429.57 280.03,431.47 280.16,433.23 280.30,434.85 280.59,394.90 280.72,398.84 280.85,402.53 280.98,405.97 281.11,409.18 281.25,412.18 281.38,414.99 281.51,417.60 281.64,420.05 281.78,422.33 281.91,424.46 282.04,426.45 282.17,428.31 282.31,430.04 282.44,431.66 282.73,394.90 282.86,399.10 282.99,403.01 283.12,406.65 283.26,410.02 283.39,413.16 283.52,416.08 283.65,418.79 283.79,421.31 283.92,423.65 284.05,425.83 284.18,427.86 284.32,429.74 284.45,431.49 284.58,433.11 284.87,394.90 285.00,399.24 285.13,403.26 285.27,407.00 285.40,410.46 285.53,413.67 285.66,416.64 285.80,419.40 285.93,421.96 286.06,424.33 286.19,426.53 286.33,428.57 286.46,430.46 286.59,432.21 286.72,433.84 287.01,394.90 287.14,399.52 287.28,403.79 287.41,407.73 287.54,411.36 287.67,414.71 287.81,417.80 287.94,420.65 288.07,423.28 288.20,425.71 288.34,427.94 288.47,430.01 288.60,431.91 288.73,433.66 288.86,435.28 289.15,394.90 289.29,399.74 289.42,404.18 289.55,408.27 289.68,412.02 289.82,415.47 289.95,418.64 290.08,421.55 290.21,424.23 290.35,426.69 290.48,428.95 290.61,431.03 290.74,432.93 290.87,434.69 291.01,436.30 291.30,384.33 291.43,388.80 291.56,392.99 291.69,396.91 291.83,400.58 291.96,404.02 292.09,407.24 292.22,410.25 292.36,413.07 292.49,415.71 292.62,418.18 292.75,420.50 292.88,422.67 293.02,424.70 293.15,426.60 293.44,381.00 293.57,386.17 293.70,390.98 293.84,395.45 293.97,399.61 294.10,403.47 294.23,407.06 294.37,410.40 294.50,413.50 294.63,416.39 294.76,419.07 294.89,421.57 295.03,423.89 295.16,426.04 295.29,428.05 295.58,379.84 295.71,385.31 295.85,390.38 295.98,395.08 296.11,399.43 296.24,403.46 296.38,407.20 296.51,410.67 296.64,413.88 296.77,416.85 296.90,419.61 297.04,422.17 297.17,424.54 297.30,426.73 297.43,428.77 297.72,379.55 297.86,385.35 297.99,390.70 298.12,395.63 298.25,400.18 298.39,404.38 298.52,408.26 298.65,411.83 298.78,415.13 298.91,418.18 299.05,420.99 299.18,423.58 299.31,425.97 299.44,428.18 299.58,430.22 299.87,379.55 300.00,385.65 300.13,391.25 300.26,396.40 300.40,401.13 300.53,405.47 300.66,409.46 300.79,413.12 300.92,416.49 301.06,419.59 301.19,422.43 301.32,425.04 301.45,427.44 301.59,429.64 301.72,431.66 302.01,379.55 302.14,384.05 302.27,388.27 302.41,392.25 302.54,395.98 302.67,399.49 302.80,402.79 302.93,405.89 303.07,408.81 303.20,411.55 303.33,414.13 303.46,416.55 303.60,418.83 303.73,420.97 303.86,422.98 304.15,379.55 304.28,384.41 304.42,388.95 304.55,393.19 304.68,397.16 304.81,400.87 304.94,404.35 305.08,407.60 305.21,410.63 305.34,413.48 305.47,416.13 305.61,418.62 305.74,420.94 305.87,423.12 306.00,425.15 306.29,379.55 306.43,384.79 306.56,389.66 306.69,394.19 306.82,398.41 306.95,402.33 307.09,405.97 307.22,409.36 307.35,412.52 307.48,415.45 307.62,418.18 307.75,420.72 307.88,423.08 308.01,425.28 308.15,427.32 308.44,379.55 308.57,385.29 308.70,390.59 308.83,395.48 308.96,400.00 309.10,404.17 309.23,408.02 309.36,411.58 309.49,414.87 309.63,417.90 309.76,420.70 309.89,423.29 310.02,425.68 310.16,427.89 310.29,429.93 310.58,379.55 310.71,385.81 310.84,391.54 310.97,396.80 311.11,401.61 311.24,406.03 311.37,410.08 311.50,413.78 311.64,417.18 311.77,420.30 311.90,423.16 312.03,425.77 312.17,428.17 312.30,430.37 312.43,432.39 312.72,379.55 312.85,384.41 312.98,388.95 313.12,393.19 313.25,397.16 313.38,400.87 313.51,404.35 313.65,407.60 313.78,410.63 313.91,413.48 314.04,416.13 314.18,418.62 314.31,420.94 314.44,423.12 314.57,425.15 314.86,379.55 314.99,385.06 315.13,390.17 315.26,394.89 315.39,399.28 315.52,403.34 315.66,407.10 315.79,410.58 315.92,413.81 316.05,416.80 316.19,419.57 316.32,422.14 316.45,424.52 316.58,426.73 316.72,428.77 317.00,390.84 317.14,395.34 317.27,399.51 317.40,403.39 317.53,407.00 317.67,410.36 317.80,413.47 317.93,416.37 318.06,419.06 318.20,421.56 318.33,423.89 318.46,426.05 318.59,428.06 318.73,429.93 318.86,431.66 319.15,393.74 319.28,398.33 319.41,402.57 319.54,406.49 319.68,410.12 319.81,413.47 319.94,416.57 320.07,419.43 320.21,422.08 320.34,424.53 320.47,426.80 320.60,428.89 320.74,430.83 320.87,432.62 321.00,434.27 321.29,394.90 321.42,399.83 321.55,404.36 321.69,408.51 321.82,412.31 321.95,415.81 322.08,419.01 322.22,421.95 322.35,424.65 322.48,427.12 322.61,429.39 322.75,431.47 322.88,433.37 323.01,435.13 323.14,436.73 323.43,394.90 323.56,398.60 323.70,402.07 323.83,405.33 323.96,408.38 324.09,411.25 324.23,413.93 324.36,416.45 324.49,418.82 324.62,421.03 324.76,423.11 324.89,425.06 325.02,426.89 325.15,428.61 325.28,430.22 325.57,394.90 325.71,399.10 325.84,403.01 325.97,406.65 326.10,410.02 326.24,413.16 326.37,416.08 326.50,418.79 326.63,421.31 326.77,423.65 326.90,425.83 327.03,427.86 327.16,429.74 327.29,431.49 327.43,433.11 327.72,394.90 327.85,399.83 327.98,404.36 328.11,408.51 328.25,412.31 328.38,415.81 328.51,419.01 328.64,421.95 328.78,424.65 328.91,427.12 329.04,429.39 329.17,431.47 329.30,433.37 329.44,435.13 329.57,436.73 329.86,394.90 329.99,398.37 330.12,401.64 330.26,404.71 330.39,407.61 330.52,410.34 330.65,412.91 330.79,415.34 330.92,417.62 331.05,419.76 331.18,421.79 331.31,423.69 331.45,425.49 331.58,427.18 331.71,428.77 332.00,394.90 332.13,398.55 332.27,401.98 332.40,405.20 332.53,408.22 332.66,411.06 332.80,413.73 332.93,416.23 333.06,418.57 333.19,420.78 333.32,422.85 333.46,424.79 333.59,426.61 333.72,428.32 333.85,429.93 334.14,394.90 334.28,398.84 334.41,402.53 334.54,405.97 334.67,409.18 334.81,412.18 334.94,414.99 335.07,417.60 335.20,420.05 335.33,422.33 335.47,424.46 335.60,426.45 335.73,428.31 335.86,430.04 336.00,431.66 336.29,394.90 336.42,399.10 336.55,403.01 336.68,406.65 336.82,410.02 336.95,413.16 337.08,416.08 337.21,418.79 337.34,421.31 337.48,423.65 337.61,425.83 337.74,427.86 337.87,429.74 338.01,431.49 338.14,433.11 338.43,394.90 338.56,399.32 338.69,403.42 338.83,407.21 338.96,410.72 339.09,413.97 339.22,416.98 339.35,419.77 339.49,422.35 339.62,424.74 339.75,426.95 339.88,429.00 340.02,430.89 340.15,432.65 340.28,434.27 340.57,394.90 340.70,399.52 340.84,403.79 340.97,407.73 341.10,411.36 341.23,414.71 341.36,417.80 341.50,420.65 341.63,423.28 341.76,425.71 341.89,427.94 342.03,430.01 342.16,431.91 342.29,433.66 342.42,435.28 342.71,394.90 342.85,398.48 342.98,401.85 343.11,405.02 343.24,407.99 343.37,410.79 343.51,413.42 343.64,415.89 343.77,418.21 343.90,420.40 344.04,422.45 344.17,424.38 344.30,426.19 344.43,427.89 344.57,429.49 344.86,394.90 344.99,398.72 345.12,402.30 345.25,405.64 345.38,408.78 345.52,411.71 345.65,414.45 345.78,417.02 345.91,419.43 346.05,421.68 346.18,423.78 346.31,425.75 346.44,427.60 346.58,429.33 346.71,430.94 347.00,394.90 347.13,398.84 347.26,402.53 347.39,405.97 347.53,409.18 347.66,412.18 347.79,414.99 347.92,417.60 348.06,420.05 348.19,422.33 348.32,424.46 348.45,426.45 348.59,428.31 348.72,430.04 348.85,431.66 349.14,394.90 349.27,399.24 349.40,403.26 349.54,407.00 349.67,410.46 349.80,413.67 349.93,416.64 350.07,419.40 350.20,421.96 350.33,424.33 350.46,426.53 350.60,428.57 350.73,430.46 350.86,432.21 350.99,433.84 351.28,394.90 351.41,399.67 351.55,404.07 351.68,408.11 351.81,411.83 351.94,415.25 352.08,418.40 352.21,421.29 352.34,423.96 352.47,426.41 352.61,428.66 352.74,430.73 352.87,432.64 353.00,434.39 353.14,436.01 353.42,394.90 353.56,398.60 353.69,402.07 353.82,405.33 353.95,408.38 354.09,411.25 354.22,413.93 354.35,416.45 354.48,418.82 354.62,421.03 354.75,423.11 354.88,425.06 355.01,426.89 355.15,428.61 355.28,430.22 355.57,394.90 355.63,398.70 355.69,402.25 355.75,405.58 355.81,408.70 355.87,411.62 355.93,414.35 355.99,416.91 356.05,419.30 356.11,421.55 356.17,423.65 356.23,425.62 356.29,427.46 356.35,429.18 356.41,430.80" fill="none" stroke="#b282c6" stroke-opacity="0.88" stroke-width="1.7" stroke-linejoin="round" clip-path="url(#c11)"/><path d="M249.3 376.1H255.1V449.8M248.6 445.8H361.1V449.8" stroke="#565656" stroke-width="1.15" fill="none"/><path d="M260.3 445.8v2.6M286.9 445.8v2.6M313.7 445.8v2.6M340.5 445.8v2.6M255.1 384.5h-3.2M255.1 407.9h-3.2M255.1 431.1h-3.2" stroke="#5c5c5c" stroke-width="0.9" fill="none"/><text transform="translate(260.3,456.8) scale(0.9,1)" text-anchor="middle" font-size="9.6" fill="#666">0</text><text transform="translate(286.9,456.8) scale(0.9,1)" text-anchor="middle" font-size="9.6" fill="#666">100</text><text transform="translate(313.7,456.8) scale(0.9,1)" text-anchor="middle" font-size="9.6" fill="#666">200</text><text transform="translate(340.5,456.8) scale(0.9,1)" text-anchor="middle" font-size="9.6" fill="#666">300</text><text transform="translate(249.8,387.1) scale(0.9,1)" text-anchor="end" font-size="9.6" fill="#666">6</text><text transform="translate(249.8,410.5) scale(0.9,1)" text-anchor="end" font-size="9.6" fill="#666">4</text><text transform="translate(249.8,433.7) scale(0.9,1)" text-anchor="end" font-size="9.6" fill="#666">2</text><text transform="translate(307.9,363.8) scale(0.85,1)" text-anchor="middle" font-size="12" fill="#333">11</text><clipPath id="c12"><rect x="403.5" y="375.1" width="108.0" height="70.9"/></clipPath><rect x="403.5" y="376.1" width="106.0" height="69.7" fill="#fbfbfe"/><path d="M408.4 376.1V445.8M452.3 376.1V445.8M496.4 376.1V445.8M403.5 388.8H509.5M403.5 410.1H509.5M403.5 431.4H509.5" stroke="#e3e3e6" stroke-width="1" fill="none"/><circle cx="477.6" cy="437.3" r="2.5" fill="#3f83b6" clip-path="url(#c12)"/><circle cx="486.7" cy="403.7" r="2.5" fill="#3f83b6" clip-path="url(#c12)"/><circle cx="504.4" cy="429.3" r="2.5" fill="#3f83b6" clip-path="url(#c12)"/><polyline points="408.13,384.91 410.61,391.16 413.10,396.97 415.58,402.37 418.06,407.39 420.54,412.07 423.02,416.41 425.50,420.45 427.98,424.20 430.47,427.69 432.95,430.94 435.43,433.96 437.91,436.76 440.39,439.37 442.87,441.80 443.45,381.44 445.91,387.84 448.37,393.80 450.83,399.35 453.30,404.51 455.76,409.32 458.22,413.79 460.68,417.96 463.14,421.83 465.60,425.44 468.06,428.80 470.52,431.92 472.98,434.83 475.44,437.54 477.90,440.06 478.48,379.99 480.33,384.86 482.18,389.48 484.03,393.86 485.89,398.01 487.74,401.94 489.59,405.68 491.44,409.21 493.29,412.57 495.14,415.75 496.99,418.77 498.84,421.63 500.69,424.34 502.54,426.91 504.39,429.35" fill="none" stroke="#b282c6" stroke-opacity="0.88" stroke-width="1.7" stroke-linejoin="round" clip-path="url(#c12)"/><path d="M397.7 376.1H403.5V449.8M397.0 445.8H509.5V449.8" stroke="#565656" stroke-width="1.15" fill="none"/><path d="M408.4 445.8v2.6M452.3 445.8v2.6M496.4 445.8v2.6M403.5 388.8h-3.2M403.5 410.1h-3.2M403.5 431.4h-3.2" stroke="#5c5c5c" stroke-width="0.9" fill="none"/><text transform="translate(408.4,456.8) scale(0.9,1)" text-anchor="middle" font-size="9.6" fill="#666">0</text><text transform="translate(452.3,456.8) scale(0.9,1)" text-anchor="middle" font-size="9.6" fill="#666">10</text><text transform="translate(496.4,456.8) scale(0.9,1)" text-anchor="middle" font-size="9.6" fill="#666">20</text><text transform="translate(398.2,391.4) scale(0.9,1)" text-anchor="end" font-size="9.6" fill="#666">4</text><text transform="translate(398.2,412.7) scale(0.9,1)" text-anchor="end" font-size="9.6" fill="#666">3</text><text transform="translate(398.2,434.0) scale(0.9,1)" text-anchor="end" font-size="9.6" fill="#666">2</text><text transform="translate(456.3,363.8) scale(0.85,1)" text-anchor="middle" font-size="12" fill="#333">12</text><clipPath id="c13"><rect x="552.4" y="375.1" width="108.0" height="70.9"/></clipPath><rect x="552.4" y="376.1" width="106.0" height="69.7" fill="#fbfbfe"/><path d="M557.1 376.1V445.8M589.4 376.1V445.8M621.5 376.1V445.8M653.7 376.1V445.8M552.4 390.7H658.4M552.4 412.3H658.4M552.4 433.7H658.4" stroke="#e3e3e6" stroke-width="1" fill="none"/><circle cx="640.1" cy="381.1" r="2.5" fill="#3f83b6" clip-path="url(#c13)"/><circle cx="653.0" cy="423.8" r="2.5" fill="#3f83b6" clip-path="url(#c13)"/><polyline points="556.84,379.41 559.54,386.07 562.24,392.27 564.94,398.05 567.64,403.43 570.34,408.45 573.03,413.12 575.73,417.47 578.43,421.52 581.13,425.30 583.83,428.82 586.53,432.09 589.23,435.15 591.93,437.99 594.62,440.64 595.49,383.61 598.17,390.04 600.85,396.02 603.53,401.60 606.20,406.78 608.88,411.61 611.56,416.11 614.24,420.29 616.92,424.19 619.59,427.82 622.27,431.19 624.95,434.34 627.63,437.26 630.31,439.99 632.98,442.52 633.85,385.05 635.20,388.22 636.54,391.27 637.88,394.22 639.23,397.07 640.57,399.82 641.92,402.48 643.26,405.04 644.60,407.51 645.95,409.90 647.29,412.21 648.64,414.43 649.98,416.58 651.33,418.66 652.67,420.66" fill="none" stroke="#b282c6" stroke-opacity="0.88" stroke-width="1.7" stroke-linejoin="round" clip-path="url(#c13)"/><path d="M546.6 376.1H552.4V449.8M545.9 445.8H658.4V449.8" stroke="#565656" stroke-width="1.15" fill="none"/><path d="M557.1 445.8v2.6M589.4 445.8v2.6M621.5 445.8v2.6M653.7 445.8v2.6M552.4 390.7h-3.2M552.4 412.3h-3.2M552.4 433.7h-3.2" stroke="#5c5c5c" stroke-width="0.9" fill="none"/><text transform="translate(557.1,456.8) scale(0.9,1)" text-anchor="middle" font-size="9.6" fill="#666">0</text><text transform="translate(589.4,456.8) scale(0.9,1)" text-anchor="middle" font-size="9.6" fill="#666">10</text><text transform="translate(621.5,456.8) scale(0.9,1)" text-anchor="middle" font-size="9.6" fill="#666">20</text><text transform="translate(653.7,456.8) scale(0.9,1)" text-anchor="middle" font-size="9.6" fill="#666">30</text><text transform="translate(547.1,393.3) scale(0.9,1)" text-anchor="end" font-size="9.6" fill="#666">4</text><text transform="translate(547.1,414.9) scale(0.9,1)" text-anchor="end" font-size="9.6" fill="#666">3</text><text transform="translate(547.1,436.3) scale(0.9,1)" text-anchor="end" font-size="9.6" fill="#666">2</text><text transform="translate(605.2,363.8) scale(0.85,1)" text-anchor="middle" font-size="12" fill="#333">13</text><clipPath id="c14"><rect x="700.9" y="375.1" width="108.0" height="70.9"/></clipPath><rect x="700.9" y="376.1" width="106.0" height="69.7" fill="#fbfbfe"/><path d="M705.4 376.1V445.8M751.9 376.1V445.8M798.4 376.1V445.8M700.9 398.5H806.9M700.9 427.5H806.9" stroke="#e3e3e6" stroke-width="1" fill="none"/><circle cx="746.8" cy="409.5" r="2.5" fill="#3f83b6" clip-path="url(#c14)"/><circle cx="750.3" cy="438.0" r="2.5" fill="#3f83b6" clip-path="url(#c14)"/><circle cx="798.1" cy="388.8" r="2.5" fill="#3f83b6" clip-path="url(#c14)"/><circle cx="801.4" cy="420.8" r="2.5" fill="#3f83b6" clip-path="url(#c14)"/><polyline points="704.84,379.41 705.56,387.88 706.27,395.43 706.98,402.14 707.70,408.11 708.41,413.43 709.12,418.16 709.84,422.37 710.55,426.12 711.26,429.45 711.98,432.42 712.69,435.06 713.40,437.41 714.12,439.50 714.83,441.36 715.41,391.57 715.90,396.65 716.39,401.33 716.88,405.64 717.37,409.62 717.86,413.29 718.35,416.67 718.84,419.78 719.33,422.65 719.82,425.29 720.31,427.73 720.80,429.98 721.29,432.05 721.78,433.96 722.27,435.72 722.85,386.50 723.34,392.14 723.83,397.31 724.32,402.08 724.81,406.46 725.30,410.48 725.79,414.18 726.28,417.59 726.77,420.71 727.26,423.59 727.75,426.24 728.24,428.67 728.73,430.90 729.22,432.96 729.71,434.85 730.29,385.49 730.78,390.85 731.27,395.81 731.76,400.39 732.25,404.63 732.74,408.54 733.23,412.16 733.72,415.51 734.21,418.60 734.70,421.46 735.19,424.10 735.68,426.55 736.17,428.81 736.66,430.89 737.15,432.82 737.73,385.05 738.22,390.69 738.71,395.87 739.20,400.65 739.69,405.05 740.18,409.10 740.67,412.84 741.16,416.27 741.65,419.44 742.14,422.36 742.63,425.05 743.12,427.52 743.61,429.80 744.10,431.90 744.59,433.84 745.17,385.05 745.66,391.00 746.15,396.44 746.64,401.43 747.13,406.01 747.62,410.21 748.11,414.06 748.60,417.58 749.09,420.82 749.58,423.78 750.07,426.50 750.56,428.99 751.05,431.27 751.54,433.36 752.03,435.28 752.61,385.05 753.10,390.39 753.59,395.33 754.08,399.90 754.57,404.13 755.06,408.04 755.55,411.66 756.04,415.01 756.53,418.11 757.02,420.97 757.51,423.62 758.00,426.08 758.49,428.35 758.98,430.45 759.47,432.39 760.05,385.05 760.54,390.69 761.03,395.87 761.52,400.65 762.01,405.05 762.50,409.10 762.99,412.84 763.48,416.27 763.97,419.44 764.46,422.36 764.95,425.05 765.44,427.52 765.93,429.80 766.42,431.90 766.91,433.84 767.49,385.05 767.98,390.90 768.47,396.27 768.96,401.19 769.45,405.72 769.94,409.87 770.43,413.68 770.92,417.19 771.41,420.40 771.90,423.35 772.39,426.06 772.88,428.55 773.37,430.83 773.86,432.92 774.35,434.85 774.93,385.05 775.42,390.54 775.91,395.60 776.40,400.27 776.89,404.58 777.38,408.57 777.87,412.24 778.36,415.64 778.85,418.77 779.34,421.66 779.83,424.33 780.32,426.80 780.81,429.07 781.30,431.17 781.79,433.11 782.37,385.05 782.86,390.69 783.35,395.87 783.84,400.65 784.33,405.05 784.82,409.10 785.31,412.84 785.80,416.27 786.29,419.44 786.78,422.36 787.27,425.05 787.76,427.52 788.25,429.80 788.74,431.90 789.23,433.84 789.81,385.05 790.22,389.78 790.62,394.19 791.02,398.31 791.43,402.15 791.83,405.75 792.23,409.10 792.64,412.23 793.04,415.16 793.44,417.89 793.85,420.44 794.25,422.82 794.65,425.04 795.06,427.12 795.46,429.06 796.04,381.44 796.44,386.24 796.84,390.74 797.25,394.94 797.65,398.88 798.05,402.57 798.46,406.02 798.86,409.25 799.26,412.27 799.67,415.10 800.07,417.74 800.47,420.22 800.88,422.54 801.28,424.71 801.68,426.74" fill="none" stroke="#b282c6" stroke-opacity="0.88" stroke-width="1.7" stroke-linejoin="round" clip-path="url(#c14)"/><path d="M695.1 376.1H700.9V449.8M694.4 445.8H806.9V449.8" stroke="#565656" stroke-width="1.15" fill="none"/><path d="M705.4 445.8v2.6M751.9 445.8v2.6M798.4 445.8v2.6M700.9 398.5h-3.2M700.9 427.5h-3.2" stroke="#5c5c5c" stroke-width="0.9" fill="none"/><text transform="translate(705.4,456.8) scale(0.9,1)" text-anchor="middle" font-size="9.6" fill="#666">0</text><text transform="translate(751.9,456.8) scale(0.9,1)" text-anchor="middle" font-size="9.6" fill="#666">50</text><text transform="translate(798.4,456.8) scale(0.9,1)" text-anchor="middle" font-size="9.6" fill="#666">100</text><text transform="translate(695.6,401.1) scale(0.9,1)" text-anchor="end" font-size="9.6" fill="#666">4</text><text transform="translate(695.6,430.1) scale(0.9,1)" text-anchor="end" font-size="9.6" fill="#666">2</text><text transform="translate(753.7,363.8) scale(0.85,1)" text-anchor="middle" font-size="12" fill="#333">14</text><clipPath id="c15"><rect x="849.3" y="375.1" width="108.0" height="70.9"/></clipPath><rect x="849.3" y="376.1" width="106.0" height="69.7" fill="#fbfbfe"/><path d="M853.8 376.1V445.8M886.3 376.1V445.8M918.5 376.1V445.8M950.7 376.1V445.8M849.3 400.4H955.3M849.3 425.3H955.3" stroke="#e3e3e6" stroke-width="1" fill="none"/><circle cx="886.3" cy="402.1" r="2.5" fill="#3f83b6" clip-path="url(#c15)"/><circle cx="888.1" cy="439.5" r="2.5" fill="#3f83b6" clip-path="url(#c15)"/><circle cx="947.5" cy="397.8" r="2.5" fill="#3f83b6" clip-path="url(#c15)"/><circle cx="950.1" cy="434.0" r="2.5" fill="#3f83b6" clip-path="url(#c15)"/><polyline points="853.55,388.53 853.88,396.52 854.22,403.48 854.55,409.53 854.88,414.80 855.21,419.39 855.54,423.38 855.87,426.86 856.20,429.88 856.53,432.52 856.86,434.81 857.19,436.80 857.52,438.54 857.85,440.05 858.19,441.36 858.91,381.00 859.23,389.87 859.54,397.61 859.86,404.35 860.18,410.23 860.50,415.35 860.81,419.82 861.13,423.71 861.45,427.11 861.77,430.07 862.08,432.65 862.40,434.90 862.72,436.86 863.04,438.57 863.35,440.06 864.08,379.99 864.39,388.05 864.71,395.18 865.03,401.49 865.35,407.08 865.66,412.03 865.98,416.41 866.30,420.29 866.62,423.72 866.93,426.76 867.25,429.45 867.57,431.83 867.89,433.94 868.20,435.80 868.52,437.45 869.24,379.99 869.56,387.80 869.88,394.74 870.20,400.91 870.51,406.40 870.83,411.27 871.15,415.60 871.47,419.45 871.78,422.87 872.10,425.91 872.42,428.61 872.74,431.01 873.05,433.15 873.37,435.05 873.69,436.73 874.41,379.99 874.73,388.69 875.05,396.32 875.36,403.00 875.68,408.85 876.00,413.98 876.32,418.47 876.63,422.40 876.95,425.85 877.27,428.87 877.59,431.51 877.90,433.83 878.22,435.86 878.54,437.63 878.86,439.19 879.58,379.99 879.90,389.05 880.22,396.95 880.53,403.82 880.85,409.81 881.17,415.03 881.48,419.57 881.80,423.52 882.12,426.97 882.44,429.96 882.75,432.58 883.07,434.85 883.39,436.83 883.71,438.56 884.02,440.06 884.75,379.99 885.07,388.87 885.38,396.63 885.70,403.40 886.02,409.32 886.33,414.49 886.65,419.01 886.97,422.96 887.29,426.40 887.60,429.41 887.92,432.04 888.24,434.34 888.56,436.34 888.87,438.10 889.19,439.63 889.92,379.99 890.23,389.18 890.55,397.17 890.87,404.11 891.19,410.14 891.50,415.39 891.82,419.94 892.14,423.91 892.45,427.35 892.77,430.34 893.09,432.94 893.41,435.20 893.72,437.16 894.04,438.87 894.36,440.35 895.08,379.99 895.40,388.05 895.72,395.18 896.04,401.49 896.35,407.08 896.67,412.03 896.99,416.41 897.31,420.29 897.62,423.72 897.94,426.76 898.26,429.45 898.57,431.83 898.89,433.94 899.21,435.80 899.53,437.45 900.25,379.99 900.57,387.95 900.89,395.00 901.20,401.26 901.52,406.81 901.84,411.72 902.16,416.08 902.47,419.95 902.79,423.38 903.11,426.42 903.43,429.11 903.74,431.50 904.06,433.62 904.38,435.50 904.69,437.17 905.42,379.99 905.74,387.66 906.05,394.49 906.37,400.58 906.69,406.00 907.01,410.83 907.32,415.13 907.64,418.96 907.96,422.37 908.28,425.41 908.59,428.12 908.91,430.53 909.23,432.68 909.55,434.59 909.86,436.30 910.59,379.99 910.90,388.15 911.22,395.36 911.54,401.73 911.86,407.37 912.17,412.34 912.49,416.74 912.81,420.63 913.13,424.07 913.44,427.10 913.76,429.79 914.08,432.16 914.40,434.25 914.71,436.11 915.03,437.74 915.75,379.99 916.07,387.95 916.39,395.00 916.71,401.26 917.02,406.81 917.34,411.72 917.66,416.08 917.98,419.95 918.29,423.38 918.61,426.42 918.93,429.11 919.25,431.50 919.56,433.62 919.88,435.50 920.20,437.17 920.92,379.99 921.24,387.66 921.56,394.49 921.87,400.58 922.19,406.00 922.51,410.83 922.83,415.13 923.14,418.96 923.46,422.37 923.78,425.41 924.10,428.12 924.41,430.53 924.73,432.68 925.05,434.59 925.37,436.30 926.09,379.99 926.41,388.05 926.72,395.18 927.04,401.49 927.36,407.08 927.68,412.03 927.99,416.41 928.31,420.29 928.63,423.72 928.95,426.76 929.26,429.45 929.58,431.83 929.90,433.94 930.22,435.80 930.53,437.45 931.26,379.99 931.57,388.47 931.89,395.92 932.21,402.48 932.53,408.24 932.84,413.31 933.16,417.76 933.48,421.68 933.80,425.12 934.11,428.15 934.43,430.81 934.75,433.15 935.07,435.21 935.38,437.02 935.70,438.61 936.42,379.99 936.74,388.87 937.06,396.63 937.38,403.40 937.69,409.32 938.01,414.49 938.33,419.01 938.65,422.96 938.96,426.40 939.28,429.41 939.60,432.04 939.92,434.34 940.23,436.34 940.55,438.10 940.87,439.63 941.59,379.99 941.91,388.05 942.23,395.18 942.54,401.49 942.86,407.08 943.18,412.03 943.50,416.41 943.81,420.29 944.13,423.72 944.45,426.76 944.77,429.45 945.08,431.83 945.40,433.94 945.72,435.80 946.04,437.45 946.76,379.99 947.02,386.89 947.28,393.11 947.54,398.72 947.80,403.77 948.06,408.33 948.32,412.45 948.58,416.16 948.84,419.50 949.10,422.52 949.36,425.24 949.61,427.69 949.87,429.90 950.13,431.89 950.39,433.69" fill="none" stroke="#b282c6" stroke-opacity="0.88" stroke-width="1.7" stroke-linejoin="round" clip-path="url(#c15)"/><path d="M843.5 376.1H849.3V449.8M842.8 445.8H955.3V449.8" stroke="#565656" stroke-width="1.15" fill="none"/><path d="M853.8 445.8v2.6M886.3 445.8v2.6M918.5 445.8v2.6M950.7 445.8v2.6M849.3 400.4h-3.2M849.3 425.3h-3.2" stroke="#5c5c5c" stroke-width="0.9" fill="none"/><text transform="translate(853.8,456.8) scale(0.9,1)" text-anchor="middle" font-size="9.6" fill="#666">0</text><text transform="translate(886.3,456.8) scale(0.9,1)" text-anchor="middle" font-size="9.6" fill="#666">50</text><text transform="translate(918.5,456.8) scale(0.9,1)" text-anchor="middle" font-size="9.6" fill="#666">100</text><text transform="translate(950.7,456.8) scale(0.9,1)" text-anchor="middle" font-size="9.6" fill="#666">150</text><text transform="translate(844.0,403.0) scale(0.9,1)" text-anchor="end" font-size="9.6" fill="#666">4</text><text transform="translate(844.0,427.9) scale(0.9,1)" text-anchor="end" font-size="9.6" fill="#666">2</text><text transform="translate(902.1,363.8) scale(0.85,1)" text-anchor="middle" font-size="12" fill="#333">15</text><clipPath id="c16"><rect x="255.1" y="487.3" width="108.0" height="70.9"/></clipPath><rect x="255.1" y="488.3" width="106.0" height="69.7" fill="#fbfbfe"/><path d="M260.3 488.3V558.0M294.3 488.3V558.0M328.3 488.3V558.0M255.1 510.5H361.1M255.1 534.4H361.1" stroke="#e3e3e6" stroke-width="1" fill="none"/><circle cx="349.3" cy="525.1" r="2.5" fill="#3f83b6" clip-path="url(#c16)"/><circle cx="355.8" cy="550.0" r="2.5" fill="#3f83b6" clip-path="url(#c16)"/><polyline points="259.57,491.41 260.86,503.41 262.15,513.25 263.44,521.33 264.74,527.96 266.03,533.40 267.32,537.87 268.61,541.53 269.91,544.54 271.20,547.00 272.49,549.03 273.78,550.69 275.08,552.05 276.37,553.17 277.66,554.09 277.95,511.10 278.88,517.59 279.81,523.19 280.74,528.02 281.67,532.19 282.60,535.78 283.53,538.88 284.46,541.55 285.39,543.85 286.33,545.84 287.26,547.55 288.19,549.03 289.12,550.30 290.05,551.40 290.98,552.35 291.27,509.65 292.23,516.43 293.19,522.27 294.15,527.30 295.11,531.62 296.08,535.34 297.04,538.54 298.00,541.29 298.96,543.67 299.92,545.70 300.88,547.46 301.85,548.97 302.81,550.27 303.77,551.39 304.73,552.35 305.02,509.36 305.97,516.20 306.92,522.09 307.87,527.15 308.82,531.51 309.78,535.25 310.73,538.47 311.68,541.24 312.63,543.63 313.58,545.68 314.53,547.44 315.48,548.96 316.43,550.26 317.39,551.38 318.34,552.35 318.63,509.36 319.58,516.20 320.53,522.09 321.48,527.15 322.43,531.51 323.38,535.25 324.33,538.47 325.28,541.24 326.24,543.63 327.19,545.68 328.14,547.44 329.09,548.96 330.04,550.26 330.99,551.38 331.94,552.35 332.23,509.36 333.19,516.20 334.16,522.09 335.12,527.15 336.08,531.51 337.04,535.25 338.00,538.47 338.96,541.24 339.93,543.63 340.89,545.68 341.85,547.44 342.81,548.96 343.77,550.26 344.73,551.38 345.69,552.35 345.98,509.36 346.69,515.20 347.39,520.34 348.09,524.87 348.80,528.86 349.50,532.38 350.20,535.47 350.91,538.19 351.61,540.59 352.31,542.70 353.02,544.56 353.72,546.20 354.42,547.64 355.12,548.92 355.83,550.03" fill="none" stroke="#b282c6" stroke-opacity="0.88" stroke-width="1.7" stroke-linejoin="round" clip-path="url(#c16)"/><path d="M249.3 488.3H255.1V562.0M248.6 558.0H361.1V562.0" stroke="#565656" stroke-width="1.15" fill="none"/><path d="M260.3 558.0v2.6M294.3 558.0v2.6M328.3 558.0v2.6M255.1 510.5h-3.2M255.1 534.4h-3.2" stroke="#5c5c5c" stroke-width="0.9" fill="none"/><text transform="translate(260.3,569.0) scale(0.9,1)" text-anchor="middle" font-size="9.6" fill="#666">0</text><text transform="translate(294.3,569.0) scale(0.9,1)" text-anchor="middle" font-size="9.6" fill="#666">20</text><text transform="translate(328.3,569.0) scale(0.9,1)" text-anchor="middle" font-size="9.6" fill="#666">40</text><text transform="translate(249.8,513.1) scale(0.9,1)" text-anchor="end" font-size="9.6" fill="#666">4</text><text transform="translate(249.8,537.0) scale(0.9,1)" text-anchor="end" font-size="9.6" fill="#666">2</text><text transform="translate(307.9,476.0) scale(0.85,1)" text-anchor="middle" font-size="12" fill="#333">16</text><clipPath id="c17"><rect x="403.5" y="487.3" width="108.0" height="70.9"/></clipPath><rect x="403.5" y="488.3" width="106.0" height="69.7" fill="#fbfbfe"/><path d="M408.4 488.3V558.0M437.4 488.3V558.0M466.5 488.3V558.0M495.4 488.3V558.0M403.5 504.7H509.5M403.5 533.1H509.5" stroke="#e3e3e6" stroke-width="1" fill="none"/><circle cx="418.7" cy="529.0" r="2.5" fill="#3f83b6" clip-path="url(#c17)"/><circle cx="420.4" cy="550.3" r="2.5" fill="#3f83b6" clip-path="url(#c17)"/><circle cx="502.5" cy="525.9" r="2.5" fill="#3f83b6" clip-path="url(#c17)"/><circle cx="504.4" cy="545.0" r="2.5" fill="#3f83b6" clip-path="url(#c17)"/><polyline points="407.84,491.41 408.15,500.70 408.46,508.76 408.77,515.76 409.08,521.82 409.39,527.08 409.70,531.64 410.01,535.60 410.32,539.03 410.63,542.01 410.95,544.59 411.26,546.83 411.57,548.77 411.88,550.45 412.19,551.92 412.76,506.46 413.05,513.49 413.34,519.63 413.63,524.98 413.92,529.64 414.21,533.71 414.50,537.26 414.79,540.35 415.08,543.05 415.37,545.41 415.66,547.46 415.95,549.25 416.24,550.81 416.53,552.17 416.82,553.36 417.40,508.34 417.69,515.02 417.98,520.86 418.27,525.96 418.55,530.42 418.84,534.32 419.13,537.74 419.42,540.72 419.71,543.33 420.00,545.61 420.29,547.60 420.58,549.34 420.87,550.87 421.16,552.20 421.45,553.36 422.03,496.76 422.32,505.03 422.61,512.24 422.90,518.52 423.19,524.01 423.48,528.79 423.77,532.97 424.06,536.61 424.35,539.78 424.64,542.55 424.93,544.97 425.22,547.07 425.52,548.91 425.81,550.52 426.10,551.92 426.68,495.32 426.97,503.86 427.26,511.29 427.55,517.77 427.84,523.41 428.13,528.32 428.42,532.60 428.71,536.33 429.00,539.57 429.29,542.40 429.58,544.86 429.87,547.01 430.16,548.87 430.45,550.50 430.74,551.92 431.32,495.32 431.61,503.86 431.90,511.29 432.19,517.77 432.48,523.41 432.77,528.32 433.07,532.60 433.36,536.33 433.65,539.57 433.94,542.40 434.23,544.86 434.52,547.01 434.81,548.87 435.10,550.50 435.39,551.92 435.97,495.32 436.26,503.86 436.55,511.29 436.84,517.77 437.13,523.41 437.42,528.32 437.71,532.60 438.00,536.33 438.29,539.57 438.58,542.40 438.87,544.86 439.16,547.01 439.46,548.87 439.75,550.50 440.04,551.92 440.62,495.32 440.91,503.86 441.20,511.29 441.49,517.77 441.78,523.41 442.07,528.32 442.36,532.60 442.65,536.33 442.94,539.57 443.23,542.40 443.52,544.86 443.81,547.01 444.10,548.87 444.39,550.50 444.68,551.92 445.26,495.32 445.55,503.86 445.84,511.29 446.13,517.77 446.42,523.41 446.71,528.32 447.00,532.60 447.30,536.33 447.59,539.57 447.88,542.40 448.17,544.86 448.46,547.01 448.75,548.87 449.04,550.50 449.33,551.92 449.91,495.32 450.20,503.86 450.49,511.29 450.78,517.77 451.07,523.41 451.36,528.32 451.65,532.60 451.94,536.33 452.23,539.57 452.52,542.40 452.81,544.86 453.10,547.01 453.39,548.87 453.69,550.50 453.98,551.92 454.55,495.32 454.85,503.86 455.14,511.29 455.43,517.77 455.72,523.41 456.01,528.32 456.30,532.60 456.59,536.33 456.88,539.57 457.17,542.40 457.46,544.86 457.75,547.01 458.04,548.87 458.33,550.50 458.62,551.92 459.20,495.32 459.49,503.86 459.78,511.29 460.07,517.77 460.36,523.41 460.65,528.32 460.94,532.60 461.24,536.33 461.53,539.57 461.82,542.40 462.11,544.86 462.40,547.01 462.69,548.87 462.98,550.50 463.27,551.92 463.85,495.32 464.14,503.86 464.43,511.29 464.72,517.77 465.01,523.41 465.30,528.32 465.59,532.60 465.88,536.33 466.17,539.57 466.46,542.40 466.75,544.86 467.04,547.01 467.33,548.87 467.63,550.50 467.92,551.92 468.49,495.32 468.79,503.86 469.08,511.29 469.37,517.77 469.66,523.41 469.95,528.32 470.24,532.60 470.53,536.33 470.82,539.57 471.11,542.40 471.40,544.86 471.69,547.01 471.98,548.87 472.27,550.50 472.56,551.92 473.14,495.32 473.43,503.86 473.72,511.29 474.01,517.77 474.30,523.41 474.59,528.32 474.88,532.60 475.17,536.33 475.47,539.57 475.76,542.40 476.05,544.86 476.34,547.01 476.63,548.87 476.92,550.50 477.21,551.92 477.79,495.32 478.08,503.86 478.37,511.29 478.66,517.77 478.95,523.41 479.24,528.32 479.53,532.60 479.82,536.33 480.11,539.57 480.40,542.40 480.69,544.86 480.98,547.01 481.27,548.87 481.56,550.50 481.86,551.92 482.43,495.32 482.72,503.86 483.02,511.29 483.31,517.77 483.60,523.41 483.89,528.32 484.18,532.60 484.47,536.33 484.76,539.57 485.05,542.40 485.34,544.86 485.63,547.01 485.92,548.87 486.21,550.50 486.50,551.92 487.08,495.32 487.37,503.86 487.66,511.29 487.95,517.77 488.24,523.41 488.53,528.32 488.82,532.60 489.11,536.33 489.41,539.57 489.70,542.40 489.99,544.86 490.28,547.01 490.57,548.87 490.86,550.50 491.15,551.92 491.73,495.32 492.02,503.86 492.31,511.29 492.60,517.77 492.89,523.41 493.18,528.32 493.47,532.60 493.76,536.33 494.05,539.57 494.34,542.40 494.63,544.86 494.92,547.01 495.21,548.87 495.50,550.50 495.79,551.92 496.37,495.32 496.66,503.86 496.96,511.29 497.25,517.77 497.54,523.41 497.83,528.32 498.12,532.60 498.41,536.33 498.70,539.57 498.99,542.40 499.28,544.86 499.57,547.01 499.86,548.87 500.15,550.50 500.44,551.92 501.02,495.32 501.28,501.75 501.54,507.57 501.81,512.81 502.07,517.55 502.33,521.82 502.59,525.68 502.85,529.16 503.11,532.31 503.37,535.14 503.64,537.71 503.90,540.02 504.16,542.11 504.42,543.99 504.68,545.69" fill="none" stroke="#b282c6" stroke-opacity="0.88" stroke-width="1.7" stroke-linejoin="round" clip-path="url(#c17)"/><path d="M397.7 488.3H403.5V562.0M397.0 558.0H509.5V562.0" stroke="#565656" stroke-width="1.15" fill="none"/><path d="M408.4 558.0v2.6M437.4 558.0v2.6M466.5 558.0v2.6M495.4 558.0v2.6M403.5 504.7h-3.2M403.5 533.1h-3.2" stroke="#5c5c5c" stroke-width="0.9" fill="none"/><text transform="translate(408.4,569.0) scale(0.9,1)" text-anchor="middle" font-size="9.6" fill="#666">0</text><text transform="translate(437.4,569.0) scale(0.9,1)" text-anchor="middle" font-size="9.6" fill="#666">50</text><text transform="translate(466.5,569.0) scale(0.9,1)" text-anchor="middle" font-size="9.6" fill="#666">100</text><text transform="translate(495.4,569.0) scale(0.9,1)" text-anchor="middle" font-size="9.6" fill="#666">150</text><text transform="translate(398.2,507.3) scale(0.9,1)" text-anchor="end" font-size="9.6" fill="#666">4</text><text transform="translate(398.2,535.7) scale(0.9,1)" text-anchor="end" font-size="9.6" fill="#666">2</text><text transform="translate(456.3,476.0) scale(0.85,1)" text-anchor="middle" font-size="12" fill="#333">17</text><clipPath id="c18"><rect x="552.4" y="487.3" width="108.0" height="70.9"/></clipPath><rect x="552.4" y="488.3" width="106.0" height="69.7" fill="#fbfbfe"/><path d="M557.1 488.3V558.0M598.4 488.3V558.0M639.6 488.3V558.0M552.4 493.3H658.4M552.4 519.6H658.4M552.4 545.7H658.4" stroke="#e3e3e6" stroke-width="1" fill="none"/><circle cx="570.9" cy="525.0" r="2.5" fill="#3f83b6" clip-path="url(#c18)"/><circle cx="573.5" cy="549.6" r="2.5" fill="#3f83b6" clip-path="url(#c18)"/><circle cx="650.1" cy="500.8" r="2.5" fill="#3f83b6" clip-path="url(#c18)"/><circle cx="653.1" cy="540.0" r="2.5" fill="#3f83b6" clip-path="url(#c18)"/><polyline points="556.55,513.12 556.97,517.77 557.38,522.06 557.79,526.00 558.21,529.63 558.62,532.98 559.04,536.06 559.45,538.89 559.86,541.50 560.28,543.91 560.69,546.12 561.10,548.16 561.52,550.04 561.93,551.77 562.34,553.36 563.21,508.34 563.56,512.77 563.92,516.88 564.27,520.70 564.62,524.26 564.97,527.58 565.32,530.66 565.67,533.53 566.02,536.20 566.38,538.68 566.73,540.99 567.08,543.14 567.43,545.14 567.78,547.00 568.13,548.73 569.00,505.31 569.41,510.89 569.81,516.00 570.21,520.69 570.62,524.98 571.02,528.91 571.42,532.52 571.83,535.82 572.23,538.84 572.63,541.61 573.03,544.15 573.44,546.48 573.84,548.61 574.24,550.56 574.65,552.35 575.52,507.48 575.90,512.49 576.28,517.12 576.66,521.39 577.05,525.32 577.43,528.95 577.81,532.29 578.19,535.38 578.58,538.22 578.96,540.84 579.34,543.26 579.72,545.49 580.11,547.55 580.49,549.44 580.87,551.19 581.74,508.34 582.17,513.48 582.61,518.20 583.04,522.53 583.48,526.52 583.91,530.19 584.35,533.56 584.78,536.65 585.21,539.50 585.65,542.12 586.08,544.52 586.52,546.73 586.95,548.76 587.39,550.63 587.82,552.35 588.69,508.34 589.09,513.18 589.50,517.65 589.90,521.77 590.30,525.59 590.70,529.11 591.11,532.36 591.51,535.37 591.91,538.15 592.32,540.72 592.72,543.09 593.12,545.28 593.53,547.30 593.93,549.17 594.33,550.90 595.20,508.34 595.62,513.48 596.03,518.20 596.44,522.53 596.86,526.52 597.27,530.19 597.68,533.56 598.10,536.65 598.51,539.50 598.92,542.12 599.34,544.52 599.75,546.73 600.17,548.76 600.58,550.63 600.99,552.35 601.86,496.76 602.27,503.14 602.69,508.97 603.10,514.31 603.52,519.20 603.93,523.67 604.34,527.76 604.76,531.50 605.17,534.93 605.58,538.07 606.00,540.94 606.41,543.56 606.82,545.97 607.24,548.17 607.65,550.18 608.52,493.44 608.91,499.58 609.31,505.25 609.70,510.47 610.09,515.28 610.48,519.71 610.88,523.80 611.27,527.57 611.66,531.04 612.06,534.24 612.45,537.19 612.84,539.91 613.23,542.41 613.63,544.72 614.02,546.85 614.89,492.42 615.30,499.02 615.72,505.08 616.13,510.63 616.54,515.72 616.96,520.39 617.37,524.67 617.78,528.59 618.20,532.19 618.61,535.49 619.02,538.51 619.44,541.28 619.85,543.83 620.27,546.16 620.68,548.30 621.55,491.99 621.95,498.22 622.35,503.97 622.76,509.27 623.16,514.16 623.56,518.66 623.97,522.82 624.37,526.65 624.77,530.18 625.18,533.43 625.58,536.43 625.98,539.20 626.39,541.75 626.79,544.10 627.19,546.27 628.06,491.99 628.48,498.53 628.89,504.53 629.30,510.05 629.72,515.11 630.13,519.76 630.54,524.02 630.96,527.94 631.37,531.54 631.78,534.84 632.20,537.87 632.61,540.66 633.02,543.22 633.44,545.56 633.85,547.72 634.72,491.99 635.14,498.05 635.57,503.65 635.99,508.82 636.42,513.60 636.84,518.02 637.26,522.11 637.69,525.88 638.11,529.37 638.54,532.60 638.96,535.58 639.38,538.33 639.81,540.88 640.23,543.23 640.66,545.40 641.52,491.99 641.94,498.34 642.35,504.19 642.76,509.58 643.18,514.53 643.59,519.10 644.00,523.29 644.42,527.16 644.83,530.72 645.25,533.99 645.66,537.01 646.07,539.78 646.49,542.33 646.90,544.69 647.31,546.85 648.18,491.99 648.55,497.05 648.93,501.78 649.30,506.22 649.67,510.38 650.04,514.27 650.42,517.92 650.79,521.33 651.16,524.53 651.53,527.53 651.90,530.34 652.28,532.97 652.65,535.43 653.02,537.74 653.39,539.90" fill="none" stroke="#b282c6" stroke-opacity="0.88" stroke-width="1.7" stroke-linejoin="round" clip-path="url(#c18)"/><path d="M546.6 488.3H552.4V562.0M545.9 558.0H658.4V562.0" stroke="#565656" stroke-width="1.15" fill="none"/><path d="M557.1 558.0v2.6M598.4 558.0v2.6M639.6 558.0v2.6M552.4 493.3h-3.2M552.4 519.6h-3.2M552.4 545.7h-3.2" stroke="#5c5c5c" stroke-width="0.9" fill="none"/><text transform="translate(557.1,569.0) scale(0.9,1)" text-anchor="middle" font-size="9.6" fill="#666">0</text><text transform="translate(598.4,569.0) scale(0.9,1)" text-anchor="middle" font-size="9.6" fill="#666">50</text><text transform="translate(639.6,569.0) scale(0.9,1)" text-anchor="middle" font-size="9.6" fill="#666">100</text><text transform="translate(547.1,495.9) scale(0.9,1)" text-anchor="end" font-size="9.6" fill="#666">6</text><text transform="translate(547.1,522.2) scale(0.9,1)" text-anchor="end" font-size="9.6" fill="#666">4</text><text transform="translate(547.1,548.3) scale(0.9,1)" text-anchor="end" font-size="9.6" fill="#666">2</text><text transform="translate(605.2,476.0) scale(0.85,1)" text-anchor="middle" font-size="12" fill="#333">18</text><clipPath id="c19"><rect x="700.9" y="487.3" width="108.0" height="70.9"/></clipPath><rect x="700.9" y="488.3" width="106.0" height="69.7" fill="#fbfbfe"/><path d="M705.4 488.3V558.0M751.2 488.3V558.0M796.8 488.3V558.0M700.9 504.4H806.9M700.9 534.4H806.9" stroke="#e3e3e6" stroke-width="1" fill="none"/><circle cx="763.0" cy="551.2" r="2.5" fill="#3f83b6" clip-path="url(#c19)"/><circle cx="801.7" cy="520.4" r="2.5" fill="#3f83b6" clip-path="url(#c19)"/><circle cx="802.1" cy="544.2" r="2.5" fill="#3f83b6" clip-path="url(#c19)"/><polygon points="704.4,500.8 705.4,500.5 706.3,494.3 708.0,491.4 750.7,491.4 751.7,495.8 752.9,494.3 754.3,491.4 800.7,491.4 801.2,503.7 802.1,545.7 801.2,545.7 801.1,547.9 800.5,547.9 800.4,544.2 799.4,544.2 799.2,551.8 798.2,551.8 798.1,543.5 796.5,543.5 796.3,550.0 795.0,550.0 794.9,552.6 793.9,552.6 793.7,545.7 791.8,545.7 791.7,550.0 790.0,550.0 789.8,553.7 788.5,553.7 788.4,545.7 786.6,545.7 786.5,551.2 784.9,551.2 784.7,553.9 783.2,553.9 783.0,547.9 781.3,547.9 781.1,550.0 779.8,550.0 779.7,542.8 777.9,542.8 777.8,549.3 776.2,549.3 776.1,545.0 774.5,545.0 774.3,551.5 772.6,551.5 772.4,544.2 770.7,544.2 770.6,552.9 769.0,552.9 768.8,552.2 767.2,552.2 767.1,545.7 765.3,545.7 765.2,551.5 763.2,551.5 763.0,552.9 761.0,552.9 760.9,550.0 759.1,550.0 759.0,545.7 757.7,545.7 757.5,541.3 755.9,541.3 755.8,551.5 754.2,551.5 754.1,552.2 752.3,552.2 752.2,551.2 750.9,551.2 750.7,542.1 749.0,542.1 748.8,550.0 747.3,550.0 747.1,544.2 745.5,544.2 745.4,551.5 743.6,551.5 743.5,545.7 741.8,545.7 741.6,552.6 740.0,552.6 739.9,544.2 738.3,544.2 738.1,550.0 736.4,550.0 736.3,552.9 734.5,552.9 734.4,544.2 732.8,544.2 732.6,550.0 731.0,550.0 730.9,553.7 729.2,553.7 729.0,547.9 727.3,547.9 727.1,551.5 725.5,551.5 725.4,542.1 723.8,542.1 723.7,550.0 721.9,550.0 721.8,552.2 720.0,552.2 719.9,544.2 718.3,544.2 718.2,550.0 716.6,550.0 716.4,552.9 714.7,552.9 714.5,545.0 712.8,545.0 712.7,550.0 711.1,550.0 710.9,553.2 709.3,553.2 709.2,550.0 707.4,550.0 707.3,554.4 706.0,554.4 705.9,554.4 704.6,551.5" fill="#b282c6" fill-opacity="0.88" stroke="#b282c6" stroke-opacity="0.88" stroke-width="0.6" clip-path="url(#c19)"/><path d="M695.1 488.3H700.9V562.0M694.4 558.0H806.9V562.0" stroke="#565656" stroke-width="1.15" fill="none"/><path d="M705.4 558.0v2.6M751.2 558.0v2.6M796.8 558.0v2.6M700.9 504.4h-3.2M700.9 534.4h-3.2" stroke="#5c5c5c" stroke-width="0.9" fill="none"/><text transform="translate(705.4,569.0) scale(0.9,1)" text-anchor="middle" font-size="9.6" fill="#666">0</text><text transform="translate(751.2,569.0) scale(0.9,1)" text-anchor="middle" font-size="9.6" fill="#666">200</text><text transform="translate(796.8,569.0) scale(0.9,1)" text-anchor="middle" font-size="9.6" fill="#666">400</text><text transform="translate(695.6,507.0) scale(0.9,1)" text-anchor="end" font-size="9.6" fill="#666">4</text><text transform="translate(695.6,537.0) scale(0.9,1)" text-anchor="end" font-size="9.6" fill="#666">2</text><text transform="translate(753.7,476.0) scale(0.85,1)" text-anchor="middle" font-size="12" fill="#333">19</text><clipPath id="c20"><rect x="849.3" y="487.3" width="108.0" height="70.9"/></clipPath><rect x="849.3" y="488.3" width="106.0" height="69.7" fill="#fbfbfe"/><path d="M853.8 488.3V558.0M888.4 488.3V558.0M922.9 488.3V558.0M849.3 496.5H955.3M849.3 529.3H955.3" stroke="#e3e3e6" stroke-width="1" fill="none"/><circle cx="922.5" cy="526.6" r="2.5" fill="#3f83b6" clip-path="url(#c20)"/><circle cx="950.0" cy="550.3" r="2.5" fill="#3f83b6" clip-path="url(#c20)"/><polyline points="853.84,491.41 857.72,501.41 861.60,509.99 865.48,517.37 869.35,523.70 873.23,529.14 877.11,533.81 880.98,537.82 884.86,541.26 888.74,544.22 892.62,546.75 896.49,548.94 900.37,550.81 904.25,552.42 908.13,553.80 908.85,499.66 911.80,506.66 914.74,512.87 917.69,518.39 920.64,523.30 923.58,527.65 926.53,531.52 929.48,534.95 932.42,538.00 935.37,540.71 938.32,543.11 941.26,545.25 944.21,547.14 947.16,548.83 950.10,550.32" fill="none" stroke="#b282c6" stroke-opacity="0.88" stroke-width="1.7" stroke-linejoin="round" clip-path="url(#c20)"/><path d="M843.5 488.3H849.3V562.0M842.8 558.0H955.3V562.0" stroke="#565656" stroke-width="1.15" fill="none"/><path d="M853.8 558.0v2.6M888.4 558.0v2.6M922.9 558.0v2.6M849.3 496.5h-3.2M849.3 529.3h-3.2" stroke="#5c5c5c" stroke-width="0.9" fill="none"/><text transform="translate(853.8,569.0) scale(0.9,1)" text-anchor="middle" font-size="9.6" fill="#666">0</text><text transform="translate(888.4,569.0) scale(0.9,1)" text-anchor="middle" font-size="9.6" fill="#666">5</text><text transform="translate(922.9,569.0) scale(0.9,1)" text-anchor="middle" font-size="9.6" fill="#666">10</text><text transform="translate(844.0,499.1) scale(0.9,1)" text-anchor="end" font-size="9.6" fill="#666">4</text><text transform="translate(844.0,531.9) scale(0.9,1)" text-anchor="end" font-size="9.6" fill="#666">2</text><text transform="translate(902.1,476.0) scale(0.85,1)" text-anchor="middle" font-size="12" fill="#333">20</text><clipPath id="c21"><rect x="255.1" y="599.4" width="108.0" height="70.9"/></clipPath><rect x="255.1" y="600.4" width="106.0" height="69.7" fill="#fbfbfe"/><path d="M259.2 600.4V670.1M296.5 600.4V670.1M332.6 600.4V670.1M255.1 620.4H361.1" stroke="#e3e3e6" stroke-width="1" fill="none"/><polyline points="259.41,606.29 261.24,622.82 264.67,624.65 265.29,617.06 267.37,624.65 270.55,624.65 271.04,620.98 272.27,624.65 344.76,624.65 345.73,603.59 347.20,624.65" fill="none" stroke="#b282c6" stroke-opacity="0.88" stroke-width="1.7" stroke-linejoin="round" clip-path="url(#c21)"/><path d="M249.3 600.4H255.1V674.1M248.6 670.1H361.1V674.1" stroke="#565656" stroke-width="1.15" fill="none"/><path d="M259.2 670.1v2.6M296.5 670.1v2.6M332.6 670.1v2.6M255.1 620.4h-3.2" stroke="#5c5c5c" stroke-width="0.9" fill="none"/><text transform="translate(249.8,623.0) scale(0.9,1)" text-anchor="end" font-size="9.6" fill="#666">4</text><text transform="translate(307.9,588.1) scale(0.85,1)" text-anchor="middle" font-size="12" fill="#333">21</text><clipPath id="c22"><rect x="403.5" y="599.4" width="108.0" height="70.9"/></clipPath><rect x="403.5" y="600.4" width="106.0" height="69.7" fill="#fbfbfe"/><path d="M408.4 600.4V670.1M434.4 600.4V670.1M460.4 600.4V670.1M486.4 600.4V670.1M403.5 619.1H509.5" stroke="#e3e3e6" stroke-width="1" fill="none"/><circle cx="483.5" cy="603.5" r="2.5" fill="#3f83b6" clip-path="url(#c22)"/><polyline points="408.41,606.65 422.49,624.65 473.31,624.65 473.31,606.65 487.39,624.65" fill="none" stroke="#b282c6" stroke-opacity="0.88" stroke-width="1.7" stroke-linejoin="round" clip-path="url(#c22)"/><path d="M397.7 600.4H403.5V674.1M397.0 670.1H509.5V674.1" stroke="#565656" stroke-width="1.15" fill="none"/><path d="M408.4 670.1v2.6M434.4 670.1v2.6M460.4 670.1v2.6M486.4 670.1v2.6M403.5 619.1h-3.2" stroke="#5c5c5c" stroke-width="0.9" fill="none"/><text transform="translate(398.2,621.7) scale(0.9,1)" text-anchor="end" font-size="9.6" fill="#666">4</text><text transform="translate(456.3,588.1) scale(0.85,1)" text-anchor="middle" font-size="12" fill="#333">22</text><clipPath id="c23"><rect x="552.4" y="599.4" width="108.0" height="70.9"/></clipPath><rect x="552.4" y="600.4" width="106.0" height="69.7" fill="#fbfbfe"/><path d="M557.2 600.4V670.1M586.2 600.4V670.1M615.3 600.4V670.1M644.3 600.4V670.1M552.4 608.4H658.4" stroke="#e3e3e6" stroke-width="1" fill="none"/><polyline points="556.80,603.84 568.06,624.65 614.96,624.65 614.96,605.06 625.61,624.65" fill="none" stroke="#b282c6" stroke-opacity="0.88" stroke-width="1.7" stroke-linejoin="round" clip-path="url(#c23)"/><path d="M546.6 600.4H552.4V674.1M545.9 670.1H658.4V674.1" stroke="#565656" stroke-width="1.15" fill="none"/><path d="M557.2 670.1v2.6M586.2 670.1v2.6M615.3 670.1v2.6M644.3 670.1v2.6M552.4 608.4h-3.2" stroke="#5c5c5c" stroke-width="0.9" fill="none"/><text transform="translate(547.1,611.0) scale(0.9,1)" text-anchor="end" font-size="9.6" fill="#666">4</text><text transform="translate(605.2,588.1) scale(0.85,1)" text-anchor="middle" font-size="12" fill="#333">23</text><clipPath id="c24"><rect x="700.9" y="599.4" width="108.0" height="70.9"/></clipPath><rect x="700.9" y="600.4" width="106.0" height="69.7" fill="#fbfbfe"/><path d="M705.2 600.4V670.1M733.2 600.4V670.1M760.8 600.4V670.1M788.1 600.4V670.1M700.9 601.8H806.9" stroke="#e3e3e6" stroke-width="1" fill="none"/><circle cx="801.3" cy="616.3" r="2.5" fill="#3f83b6" clip-path="url(#c24)"/><polyline points="705.16,614.86 709.69,624.65 736.63,624.65 738.10,619.14 741.29,624.65 768.47,624.65 771.53,620.98 774.59,624.65 787.08,624.65 788.31,604.08 797.86,624.65" fill="none" stroke="#b282c6" stroke-opacity="0.88" stroke-width="1.7" stroke-linejoin="round" clip-path="url(#c24)"/><path d="M695.1 600.4H700.9V674.1M694.4 670.1H806.9V674.1" stroke="#565656" stroke-width="1.15" fill="none"/><path d="M705.2 670.1v2.6M733.2 670.1v2.6M760.8 670.1v2.6M788.1 670.1v2.6M700.9 601.8h-3.2" stroke="#5c5c5c" stroke-width="0.9" fill="none"/><text transform="translate(695.6,604.4) scale(0.9,1)" text-anchor="end" font-size="9.6" fill="#666">4</text><text transform="translate(753.7,588.1) scale(0.85,1)" text-anchor="middle" font-size="12" fill="#333">24</text><clipPath id="c25"><rect x="849.3" y="599.4" width="108.0" height="70.9"/></clipPath><rect x="849.3" y="600.4" width="106.0" height="69.7" fill="#fbfbfe"/><path d="M854.2 600.4V670.1M881.7 600.4V670.1M909.3 600.4V670.1M936.7 600.4V670.1M849.3 605.1H955.3M849.3 620.7H955.3" stroke="#e3e3e6" stroke-width="1" fill="none"/><polyline points="853.55,611.18 855.39,624.65 864.08,624.65 864.33,604.08 864.94,604.08 867.51,624.65 875.35,624.65 875.59,604.08 876.20,604.08 878.78,624.65 886.12,624.65 886.37,604.08 886.98,604.08 889.55,624.65 897.39,624.65 897.63,604.08 898.24,604.08 900.82,624.65 908.16,624.65 908.41,604.08 909.02,604.08 911.59,624.65 919.43,624.65 919.67,604.08 920.29,604.08 922.86,624.65 930.20,624.65 930.45,604.08 931.06,604.08 933.63,624.65 941.22,624.65 941.47,604.08 942.08,604.08 944.65,624.65" fill="none" stroke="#b282c6" stroke-opacity="0.88" stroke-width="1.7" stroke-linejoin="round" clip-path="url(#c25)"/><path d="M843.5 600.4H849.3V674.1M842.8 670.1H955.3V674.1" stroke="#565656" stroke-width="1.15" fill="none"/><path d="M854.2 670.1v2.6M881.7 670.1v2.6M909.3 670.1v2.6M936.7 670.1v2.6M849.3 605.1h-3.2M849.3 620.7h-3.2" stroke="#5c5c5c" stroke-width="0.9" fill="none"/><text transform="translate(844.0,607.7) scale(0.9,1)" text-anchor="end" font-size="9.6" fill="#666">4</text><text transform="translate(844.0,623.3) scale(0.9,1)" text-anchor="end" font-size="9.6" fill="#666">2</text><text transform="translate(902.1,588.1) scale(0.85,1)" text-anchor="middle" font-size="12" fill="#333">25</text><text transform="translate(230,427.5) rotate(-90) scale(0.9,1)" text-anchor="middle" font-size="11" fill="#333">CP</text></svg>
<svg width="980" height="622" viewBox="0 0 980 622"><rect x="226" y="114" width="171.3" height="34" fill="#7a2070"/><rect x="226" y="148" width="85" height="17" fill="#7a2070"/><rect x="311" y="148" width="86.3" height="17" fill="#6e1e6e" fill-opacity="0.30"/><rect x="226" y="165" width="171.3" height="102" fill="#6e1e6e" fill-opacity="0.30"/><rect x="226.4" y="268" width="33.6" height="17.1" fill="#e8541f"/><rect x="260" y="267" width="86" height="18" fill="#6e1e6e" fill-opacity="0.30"/><path d="M226.5 114V285M243.5 114V285M260.5 114V285M277.5 114V285M294.5 114V285M311.5 114V285M328.5 114V285M345.5 114V285M362.5 114V267M379.5 114V267M396.5 114V267M226 114.5H397M226 131.5H397M226 148.5H397M226 165.5H397M226 182.5H397M226 199.5H397M226 216.5H397M226 233.5H397M226 250.5H397M226 267.5H397M226 285.4H346" stroke="#e0d6e3" stroke-opacity="0.68" stroke-width="1" fill="none"/><path d="M251.1 273.2 Q252.8 273.2 253.4 274.2 Q254 273.2 255.7 273.2 M253.4 274 V282.8 M251.1 283.7 Q252.8 283.7 253.4 282.7 Q254 283.7 255.7 283.7" stroke="#6f8790" stroke-width="1.1" fill="none"/></svg>
</body></html>
